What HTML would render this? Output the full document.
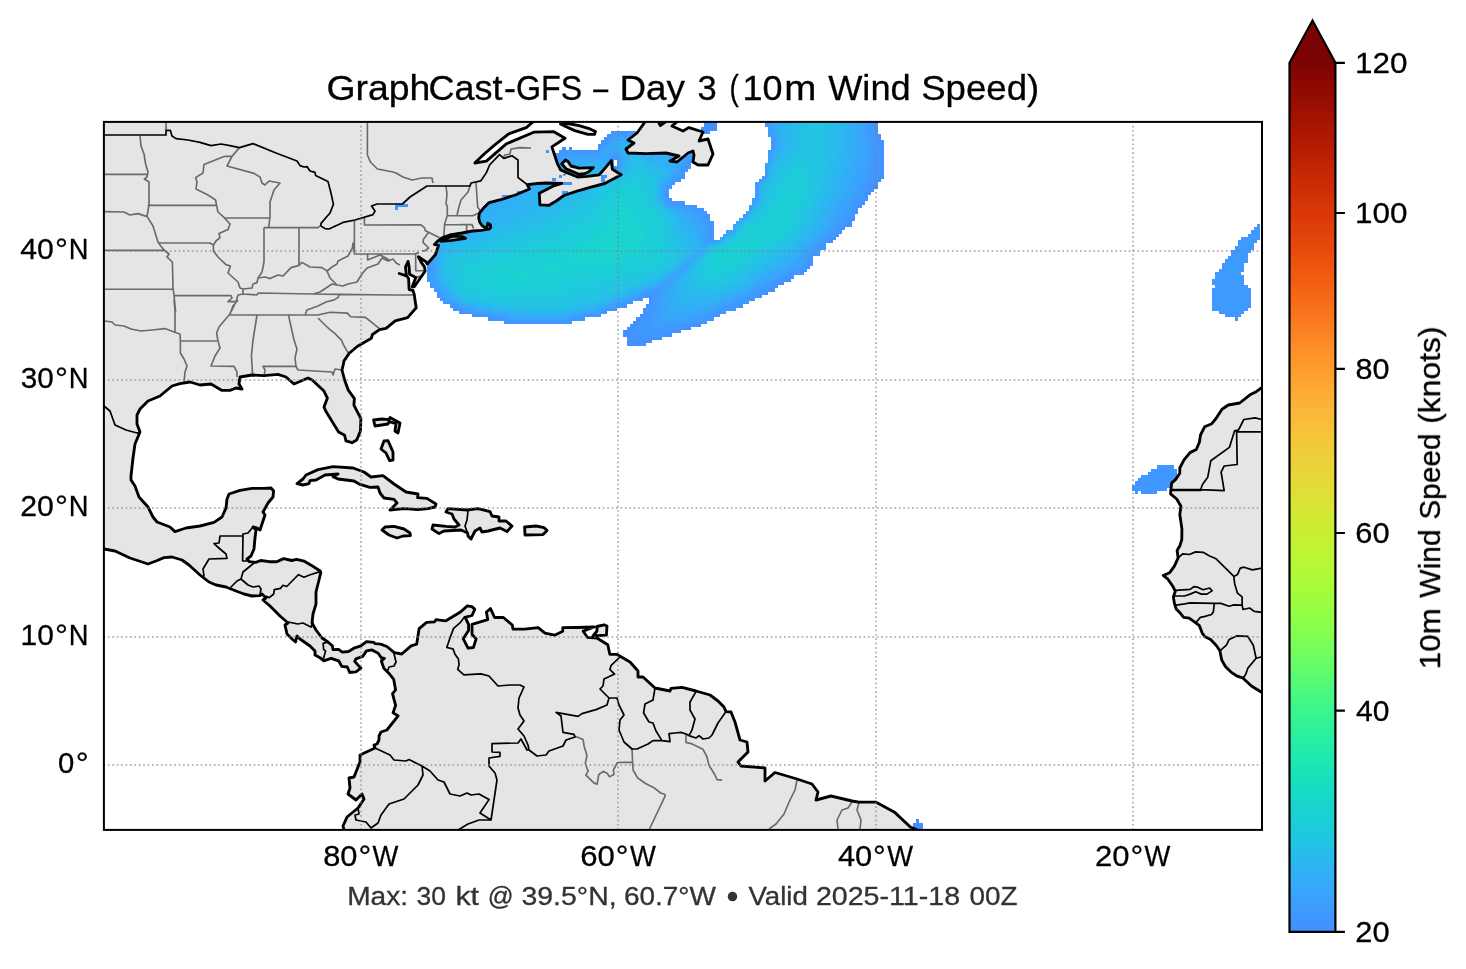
<!DOCTYPE html><html><head><meta charset="utf-8"><title>GraphCast-GFS Day 3</title>
<style>html,body{margin:0;padding:0;background:#fff}svg{display:block}text{font-family:"Liberation Sans",sans-serif}</style></head><body>
<svg width="1466" height="969" viewBox="0 0 1466 969">
<defs>
<clipPath id="ax"><rect x="103.9" y="121.9" width="1158.1" height="708"/></clipPath>
<linearGradient id="cb" x1="0" y1="1" x2="0" y2="0"><stop offset="0%" stop-color="#448ffe"/><stop offset="2.5%" stop-color="#3e9bfe"/><stop offset="5%" stop-color="#37a8fa"/><stop offset="7.5%" stop-color="#2eb4f2"/><stop offset="10%" stop-color="#23c3e4"/><stop offset="12.5%" stop-color="#1ccdd8"/><stop offset="15%" stop-color="#18d7ca"/><stop offset="17.5%" stop-color="#18e0bd"/><stop offset="20%" stop-color="#1fe9af"/><stop offset="22.5%" stop-color="#2aefa1"/><stop offset="25%" stop-color="#38f491"/><stop offset="27.5%" stop-color="#4af880"/><stop offset="30%" stop-color="#61fc6c"/><stop offset="32.5%" stop-color="#75fe5c"/><stop offset="35%" stop-color="#88ff4e"/><stop offset="37.5%" stop-color="#99fe42"/><stop offset="40%" stop-color="#a9fb39"/><stop offset="42.5%" stop-color="#b7f735"/><stop offset="45%" stop-color="#c3f134"/><stop offset="47.5%" stop-color="#d0ea34"/><stop offset="50%" stop-color="#dde037"/><stop offset="52.5%" stop-color="#e7d739"/><stop offset="55%" stop-color="#efcd3a"/><stop offset="57.5%" stop-color="#f6c33a"/><stop offset="60%" stop-color="#fbb637"/><stop offset="62.5%" stop-color="#fea933"/><stop offset="65%" stop-color="#fe9b2d"/><stop offset="67.5%" stop-color="#fd8d27"/><stop offset="70%" stop-color="#fa7b1f"/><stop offset="72.5%" stop-color="#f66c19"/><stop offset="75%" stop-color="#f15d13"/><stop offset="77.5%" stop-color="#eb500e"/><stop offset="80%" stop-color="#e2430a"/><stop offset="82.5%" stop-color="#da3907"/><stop offset="85%" stop-color="#d02f05"/><stop offset="87.5%" stop-color="#c52603"/><stop offset="90%" stop-color="#b71d02"/><stop offset="92.5%" stop-color="#a91601"/><stop offset="95%" stop-color="#9b0f01"/><stop offset="97.5%" stop-color="#8b0902"/><stop offset="100%" stop-color="#7a0403"/></linearGradient>
</defs>
<rect width="1466" height="969" fill="#fff"/>
<g clip-path="url(#ax)">
<g shape-rendering="crispEdges">
<path d="M703.9,120.9H716.7V124.2H703.9ZM765,120.9H877.6V124.2H765ZM703.9,124.2H716.7V127.4H703.9ZM765,124.2H877.6V127.4H765ZM700.6,127.4H716.7V130.6H700.6ZM768.2,127.4H877.6V130.6H768.2ZM610.6,130.6H636.3V133.8H610.6ZM700.6,130.6H710.3V133.8H700.6ZM768.2,130.6H877.6V133.8H768.2ZM607.4,133.8H646V137H607.4ZM768.2,133.8H880.8V137H768.2ZM604.1,137H655.6V140.2H604.1ZM771.4,137H880.8V140.2H771.4ZM600.9,140.2H668.5V143.5H600.9ZM771.4,140.2H884V143.5H771.4ZM597.7,143.5H681.3V146.7H597.7ZM771.4,143.5H884V146.7H771.4ZM562.3,146.7H565.5V149.9H562.3ZM568.7,146.7H572V149.9H568.7ZM597.7,146.7H694.2V149.9H597.7ZM771.4,146.7H884V149.9H771.4ZM559.1,149.9H700.6V153.1H559.1ZM768.2,149.9H884V153.1H768.2ZM552.7,153.1H697.4V156.3H552.7ZM768.2,153.1H884V156.3H768.2ZM549.4,156.3H694.2V159.6H549.4ZM768.2,156.3H884V159.6H768.2ZM543,159.6H613.8V162.8H543ZM617,159.6H694.2V162.8H617ZM768.2,159.6H884V162.8H768.2ZM539.8,162.8H613.8V166H539.8ZM617,162.8H691V166H617ZM765,162.8H884V166H765ZM536.6,166H691V169.2H536.6ZM765,166H884V169.2H765ZM530.1,169.2H687.8V172.4H530.1ZM765,169.2H884V172.4H765ZM526.9,172.4H684.6V175.6H526.9ZM765,172.4H884V175.6H765ZM523.7,175.6H684.6V178.9H523.7ZM761.8,175.6H884V178.9H761.8ZM520.5,178.9H681.3V182.1H520.5ZM758.5,178.9H880.8V182.1H758.5ZM514.1,182.1H674.9V185.3H514.1ZM755.3,182.1H877.6V185.3H755.3ZM510.8,185.3H671.7V188.5H510.8ZM755.3,185.3H877.6V188.5H755.3ZM507.6,188.5H668.5V191.7H507.6ZM755.3,188.5H874.4V191.7H755.3ZM501.2,191.7H668.5V195H501.2ZM755.3,191.7H871.1V195H755.3ZM498,195H668.5V198.2H498ZM755.3,195H867.9V198.2H755.3ZM491.5,198.2H671.7V201.4H491.5ZM752.1,198.2H867.9V201.4H752.1ZM485.1,201.4H684.6V204.6H485.1ZM752.1,201.4H864.7V204.6H752.1ZM478.7,204.6H697.4V207.8H478.7ZM748.9,204.6H861.5V207.8H748.9ZM478.7,207.8H703.9V211H478.7ZM748.9,207.8H858.3V211H748.9ZM475.5,211H707.1V214.3H475.5ZM745.7,211H858.3V214.3H745.7ZM475.5,214.3H710.3V217.5H475.5ZM742.5,214.3H855.1V217.5H742.5ZM472.2,217.5H710.3V220.7H472.2ZM739.2,217.5H855.1V220.7H739.2ZM472.2,220.7H713.5V223.9H472.2ZM736,220.7H851.8V223.9H736ZM469,223.9H713.5V227.1H469ZM732.8,223.9H851.8V227.1H732.8ZM1257.2,223.9H1260.4V227.1H1257.2ZM459.4,227.1H713.5V230.4H459.4ZM732.8,227.1H845.4V230.4H732.8ZM1254,227.1H1260.4V230.4H1254ZM449.7,230.4H713.5V233.6H449.7ZM726.4,230.4H842.2V233.6H726.4ZM1250.7,230.4H1260.4V233.6H1250.7ZM443.3,233.6H713.5V236.8H443.3ZM723.2,233.6H839V236.8H723.2ZM1247.5,233.6H1260.4V236.8H1247.5ZM440.1,236.8H713.5V240H440.1ZM719.9,236.8H835.8V240H719.9ZM1241.1,236.8H1260.4V240H1241.1ZM436.9,240H832.5V243.2H436.9ZM1237.9,240H1257.2V243.2H1237.9ZM436.9,243.2H826.1V246.4H436.9ZM1237.9,243.2H1254V246.4H1237.9ZM433.6,246.4H826.1V249.7H433.6ZM1234.7,246.4H1254V249.7H1234.7ZM433.6,249.7H819.7V252.9H433.6ZM1231.4,249.7H1250.7V252.9H1231.4ZM430.4,252.9H819.7V256.1H430.4ZM1231.4,252.9H1247.5V256.1H1231.4ZM430.4,256.1H813.2V259.3H430.4ZM1228.2,256.1H1247.5V259.3H1228.2ZM430.4,259.3H813.2V262.5H430.4ZM1225,259.3H1247.5V262.5H1225ZM427.2,262.5H813.2V265.8H427.2ZM1221.8,262.5H1244.3V265.8H1221.8ZM427.2,265.8H810V269H427.2ZM1221.8,265.8H1244.3V269H1221.8ZM427.2,269H806.8V272.2H427.2ZM1218.6,269H1244.3V272.2H1218.6ZM427.2,272.2H803.6V275.4H427.2ZM1215.4,272.2H1241.1V275.4H1215.4ZM427.2,275.4H793.9V278.6H427.2ZM1215.4,275.4H1244.3V278.6H1215.4ZM427.2,278.6H790.7V281.8H427.2ZM1212.1,278.6H1244.3V281.8H1212.1ZM430.4,281.8H784.3V285.1H430.4ZM1212.1,281.8H1244.3V285.1H1212.1ZM430.4,285.1H777.8V288.3H430.4ZM1215.4,285.1H1247.5V288.3H1215.4ZM433.6,288.3H774.6V291.5H433.6ZM1212.1,288.3H1250.7V291.5H1212.1ZM436.9,291.5H768.2V294.7H436.9ZM1212.1,291.5H1250.7V294.7H1212.1ZM436.9,294.7H761.8V297.9H436.9ZM1212.1,294.7H1250.7V297.9H1212.1ZM440.1,297.9H642.7V301.2H440.1ZM649.2,297.9H755.3V301.2H649.2ZM1212.1,297.9H1250.7V301.2H1212.1ZM443.3,301.2H633.1V304.4H443.3ZM649.2,301.2H748.9V304.4H649.2ZM1212.1,301.2H1250.7V304.4H1212.1ZM449.7,304.4H626.7V307.6H449.7ZM646,304.4H742.5V307.6H646ZM1212.1,304.4H1250.7V307.6H1212.1ZM452.9,307.6H617V310.8H452.9ZM642.7,307.6H736V310.8H642.7ZM1212.1,307.6H1247.5V310.8H1212.1ZM459.4,310.8H607.4V314H459.4ZM642.7,310.8H726.4V314H642.7ZM1218.6,310.8H1244.3V314H1218.6ZM472.2,314H600.9V317.2H472.2ZM639.5,314H719.9V317.2H639.5ZM1225,314H1241.1V317.2H1225ZM488.3,317.2H584.8V320.5H488.3ZM636.3,317.2H713.5V320.5H636.3ZM1234.7,317.2H1237.9V320.5H1234.7ZM504.4,320.5H572V323.7H504.4ZM633.1,320.5H707.1V323.7H633.1ZM629.9,323.7H700.6V326.9H629.9ZM626.7,326.9H691V330.1H626.7ZM623.4,330.1H681.3V333.3H623.4ZM623.4,333.3H671.7V336.6H623.4ZM626.7,336.6H662V339.8H626.7ZM626.7,339.8H652.4V343H626.7ZM626.7,343H646V346.2H626.7ZM1157.4,465.3H1173.5V468.5H1157.4ZM1151,468.5H1176.8V471.7H1151ZM1147.8,471.7H1176.8V474.9H1147.8ZM1141.4,474.9H1176.8V478.2H1141.4ZM1138.1,478.2H1176.8V481.4H1138.1ZM1134.9,481.4H1173.5V484.6H1134.9ZM1131.7,484.6H1170.3V487.8H1131.7ZM1131.7,487.8H1167.1V491H1131.7ZM1134.9,491H1138.1V494.2H1134.9ZM1141.4,491H1157.4V494.2H1141.4ZM916.2,819.3H919.4V822.5H916.2ZM913,822.5H922.6V825.7H913ZM913,825.7H922.6V828.9H913Z" fill="#4391fe"/>
<path d="M765,120.9H874.4V124.2H765ZM765,124.2H874.4V127.4H765ZM768.2,127.4H874.4V130.6H768.2ZM610.6,130.6H636.3V133.8H610.6ZM768.2,130.6H874.4V133.8H768.2ZM607.4,133.8H646V137H607.4ZM768.2,133.8H877.6V137H768.2ZM604.1,137H655.6V140.2H604.1ZM771.4,137H877.6V140.2H771.4ZM600.9,140.2H668.5V143.5H600.9ZM771.4,140.2H880.8V143.5H771.4ZM597.7,143.5H681.3V146.7H597.7ZM771.4,143.5H880.8V146.7H771.4ZM597.7,146.7H694.2V149.9H597.7ZM771.4,146.7H880.8V149.9H771.4ZM559.1,149.9H700.6V153.1H559.1ZM768.2,149.9H880.8V153.1H768.2ZM552.7,153.1H697.4V156.3H552.7ZM768.2,153.1H880.8V156.3H768.2ZM549.4,156.3H694.2V159.6H549.4ZM768.2,156.3H880.8V159.6H768.2ZM543,159.6H613.8V162.8H543ZM617,159.6H694.2V162.8H617ZM768.2,159.6H880.8V162.8H768.2ZM539.8,162.8H613.8V166H539.8ZM617,162.8H691V166H617ZM765,162.8H880.8V166H765ZM536.6,166H691V169.2H536.6ZM765,166H880.8V169.2H765ZM530.1,169.2H687.8V172.4H530.1ZM765,169.2H880.8V172.4H765ZM526.9,172.4H684.6V175.6H526.9ZM765,172.4H880.8V175.6H765ZM523.7,175.6H684.6V178.9H523.7ZM761.8,175.6H877.6V178.9H761.8ZM520.5,178.9H681.3V182.1H520.5ZM758.5,178.9H874.4V182.1H758.5ZM514.1,182.1H674.9V185.3H514.1ZM755.3,182.1H874.4V185.3H755.3ZM510.8,185.3H671.7V188.5H510.8ZM755.3,185.3H871.1V188.5H755.3ZM507.6,188.5H668.5V191.7H507.6ZM755.3,188.5H867.9V191.7H755.3ZM501.2,191.7H668.5V195H501.2ZM755.3,191.7H864.7V195H755.3ZM498,195H668.5V198.2H498ZM755.3,195H864.7V198.2H755.3ZM491.5,198.2H671.7V201.4H491.5ZM752.1,198.2H864.7V201.4H752.1ZM485.1,201.4H684.6V204.6H485.1ZM752.1,201.4H861.5V204.6H752.1ZM478.7,204.6H697.4V207.8H478.7ZM748.9,204.6H858.3V207.8H748.9ZM478.7,207.8H703.9V211H478.7ZM748.9,207.8H855.1V211H748.9ZM475.5,211H707.1V214.3H475.5ZM745.7,211H855.1V214.3H745.7ZM475.5,214.3H710.3V217.5H475.5ZM742.5,214.3H851.8V217.5H742.5ZM472.2,217.5H710.3V220.7H472.2ZM739.2,217.5H848.6V220.7H739.2ZM472.2,220.7H713.5V223.9H472.2ZM736,220.7H848.6V223.9H736ZM469,223.9H713.5V227.1H469ZM732.8,223.9H845.4V227.1H732.8ZM1257.2,223.9H1260.4V227.1H1257.2ZM459.4,227.1H713.5V230.4H459.4ZM732.8,227.1H842.2V230.4H732.8ZM1254,227.1H1260.4V230.4H1254ZM449.7,230.4H713.5V233.6H449.7ZM726.4,230.4H839V233.6H726.4ZM1250.7,230.4H1260.4V233.6H1250.7ZM443.3,233.6H713.5V236.8H443.3ZM723.2,233.6H835.8V236.8H723.2ZM1247.5,233.6H1260.4V236.8H1247.5ZM440.1,236.8H713.5V240H440.1ZM719.9,236.8H832.5V240H719.9ZM1241.1,236.8H1260.4V240H1241.1ZM436.9,240H832.5V243.2H436.9ZM1237.9,240H1257.2V243.2H1237.9ZM436.9,243.2H826.1V246.4H436.9ZM1237.9,243.2H1254V246.4H1237.9ZM433.6,246.4H826.1V249.7H433.6ZM1234.7,246.4H1254V249.7H1234.7ZM433.6,249.7H819.7V252.9H433.6ZM1231.4,249.7H1250.7V252.9H1231.4ZM430.4,252.9H819.7V256.1H430.4ZM1231.4,252.9H1247.5V256.1H1231.4ZM430.4,256.1H813.2V259.3H430.4ZM1228.2,256.1H1247.5V259.3H1228.2ZM430.4,259.3H813.2V262.5H430.4ZM1225,259.3H1247.5V262.5H1225ZM427.2,262.5H813.2V265.8H427.2ZM1221.8,262.5H1244.3V265.8H1221.8ZM427.2,265.8H806.8V269H427.2ZM1221.8,265.8H1244.3V269H1221.8ZM427.2,269H803.6V272.2H427.2ZM1218.6,269H1244.3V272.2H1218.6ZM427.2,272.2H800.4V275.4H427.2ZM1215.4,272.2H1241.1V275.4H1215.4ZM427.2,275.4H793.9V278.6H427.2ZM1215.4,275.4H1244.3V278.6H1215.4ZM427.2,278.6H784.3V281.8H427.2ZM1212.1,278.6H1244.3V281.8H1212.1ZM430.4,281.8H777.8V285.1H430.4ZM1212.1,281.8H1244.3V285.1H1212.1ZM430.4,285.1H774.6V288.3H430.4ZM1215.4,285.1H1247.5V288.3H1215.4ZM433.6,288.3H768.2V291.5H433.6ZM1212.1,288.3H1250.7V291.5H1212.1ZM436.9,291.5H765V294.7H436.9ZM1212.1,291.5H1250.7V294.7H1212.1ZM436.9,294.7H646V297.9H436.9ZM652.4,294.7H761.8V297.9H652.4ZM1212.1,294.7H1250.7V297.9H1212.1ZM440.1,297.9H642.7V301.2H440.1ZM652.4,297.9H755.3V301.2H652.4ZM1212.1,297.9H1250.7V301.2H1212.1ZM443.3,301.2H633.1V304.4H443.3ZM652.4,301.2H748.9V304.4H652.4ZM1212.1,301.2H1250.7V304.4H1212.1ZM449.7,304.4H626.7V307.6H449.7ZM649.2,304.4H742.5V307.6H649.2ZM1212.1,304.4H1250.7V307.6H1212.1ZM452.9,307.6H617V310.8H452.9ZM646,307.6H736V310.8H646ZM1212.1,307.6H1247.5V310.8H1212.1ZM459.4,310.8H607.4V314H459.4ZM646,310.8H726.4V314H646ZM1218.6,310.8H1244.3V314H1218.6ZM472.2,314H600.9V317.2H472.2ZM642.7,314H719.9V317.2H642.7ZM1225,314H1241.1V317.2H1225ZM488.3,317.2H584.8V320.5H488.3ZM639.5,317.2H713.5V320.5H639.5ZM1234.7,317.2H1237.9V320.5H1234.7ZM504.4,320.5H572V323.7H504.4ZM639.5,320.5H707.1V323.7H639.5ZM636.3,323.7H691V326.9H636.3ZM633.1,326.9H681.3V330.1H633.1ZM629.9,330.1H671.7V333.3H629.9ZM629.9,333.3H662V336.6H629.9ZM633.1,336.6H649.2V339.8H633.1ZM1157.4,465.3H1173.5V468.5H1157.4ZM1151,468.5H1176.8V471.7H1151ZM1147.8,471.7H1176.8V474.9H1147.8ZM1141.4,474.9H1176.8V478.2H1141.4ZM1138.1,478.2H1176.8V481.4H1138.1ZM1134.9,481.4H1173.5V484.6H1134.9ZM1131.7,484.6H1170.3V487.8H1131.7ZM1131.7,487.8H1167.1V491H1131.7ZM1134.9,491H1138.1V494.2H1134.9ZM1141.4,491H1157.4V494.2H1141.4Z" fill="#4196ff"/>
<path d="M765,120.9H871.1V124.2H765ZM765,124.2H871.1V127.4H765ZM768.2,127.4H871.1V130.6H768.2ZM768.2,130.6H871.1V133.8H768.2ZM613.8,133.8H646V137H613.8ZM768.2,133.8H871.1V137H768.2ZM610.6,137H655.6V140.2H610.6ZM771.4,137H874.4V140.2H771.4ZM607.4,140.2H668.5V143.5H607.4ZM771.4,140.2H874.4V143.5H771.4ZM604.1,143.5H681.3V146.7H604.1ZM771.4,143.5H874.4V146.7H771.4ZM600.9,146.7H694.2V149.9H600.9ZM771.4,146.7H877.6V149.9H771.4ZM600.9,149.9H700.6V153.1H600.9ZM768.2,149.9H877.6V153.1H768.2ZM562.3,153.1H697.4V156.3H562.3ZM768.2,153.1H874.4V156.3H768.2ZM549.4,156.3H613.8V159.6H549.4ZM617,156.3H694.2V159.6H617ZM768.2,156.3H874.4V159.6H768.2ZM543,159.6H610.6V162.8H543ZM620.2,159.6H687.8V162.8H620.2ZM768.2,159.6H874.4V162.8H768.2ZM539.8,162.8H610.6V166H539.8ZM620.2,162.8H687.8V166H620.2ZM765,162.8H874.4V166H765ZM536.6,166H613.8V169.2H536.6ZM617,166H684.6V169.2H617ZM765,166H874.4V169.2H765ZM530.1,169.2H681.3V172.4H530.1ZM765,169.2H874.4V172.4H765ZM526.9,172.4H681.3V175.6H526.9ZM765,172.4H871.1V175.6H765ZM523.7,175.6H678.1V178.9H523.7ZM761.8,175.6H871.1V178.9H761.8ZM520.5,178.9H674.9V182.1H520.5ZM758.5,178.9H867.9V182.1H758.5ZM514.1,182.1H671.7V185.3H514.1ZM755.3,182.1H867.9V185.3H755.3ZM510.8,185.3H668.5V188.5H510.8ZM755.3,185.3H864.7V188.5H755.3ZM507.6,188.5H665.3V191.7H507.6ZM755.3,188.5H864.7V191.7H755.3ZM501.2,191.7H665.3V195H501.2ZM755.3,191.7H861.5V195H755.3ZM498,195H665.3V198.2H498ZM755.3,195H861.5V198.2H755.3ZM491.5,198.2H668.5V201.4H491.5ZM752.1,198.2H858.3V201.4H752.1ZM485.1,201.4H671.7V204.6H485.1ZM752.1,201.4H855.1V204.6H752.1ZM478.7,204.6H684.6V207.8H478.7ZM748.9,204.6H851.8V207.8H748.9ZM478.7,207.8H694.2V211H478.7ZM748.9,207.8H851.8V211H748.9ZM475.5,211H700.6V214.3H475.5ZM745.7,211H848.6V214.3H745.7ZM475.5,214.3H703.9V217.5H475.5ZM742.5,214.3H848.6V217.5H742.5ZM472.2,217.5H707.1V220.7H472.2ZM739.2,217.5H845.4V220.7H739.2ZM472.2,220.7H707.1V223.9H472.2ZM736,220.7H842.2V223.9H736ZM469,223.9H710.3V227.1H469ZM732.8,223.9H839V227.1H732.8ZM459.4,227.1H710.3V230.4H459.4ZM732.8,227.1H839V230.4H732.8ZM449.7,230.4H710.3V233.6H449.7ZM726.4,230.4H835.8V233.6H726.4ZM1254,230.4H1257.2V233.6H1254ZM443.3,233.6H710.3V236.8H443.3ZM723.2,233.6H832.5V236.8H723.2ZM1250.7,233.6H1257.2V236.8H1250.7ZM440.1,236.8H710.3V240H440.1ZM719.9,236.8H829.3V240H719.9ZM1247.5,236.8H1257.2V240H1247.5ZM436.9,240H822.9V243.2H436.9ZM1241.1,240H1254V243.2H1241.1ZM436.9,243.2H822.9V246.4H436.9ZM1241.1,243.2H1250.7V246.4H1241.1ZM433.6,246.4H816.5V249.7H433.6ZM1237.9,246.4H1250.7V249.7H1237.9ZM433.6,249.7H816.5V252.9H433.6ZM1234.7,249.7H1247.5V252.9H1234.7ZM430.4,252.9H810V256.1H430.4ZM1234.7,252.9H1244.3V256.1H1234.7ZM430.4,256.1H810V259.3H430.4ZM1231.4,256.1H1244.3V259.3H1231.4ZM430.4,259.3H810V262.5H430.4ZM1228.2,259.3H1244.3V262.5H1228.2ZM430.4,262.5H806.8V265.8H430.4ZM1225,262.5H1241.1V265.8H1225ZM430.4,265.8H803.6V269H430.4ZM1225,265.8H1241.1V269H1225ZM430.4,269H800.4V272.2H430.4ZM1221.8,269H1241.1V272.2H1221.8ZM430.4,272.2H790.7V275.4H430.4ZM1218.6,272.2H1237.9V275.4H1218.6ZM430.4,275.4H787.5V278.6H430.4ZM1218.6,275.4H1241.1V278.6H1218.6ZM430.4,278.6H781.1V281.8H430.4ZM1215.4,278.6H1241.1V281.8H1215.4ZM433.6,281.8H774.6V285.1H433.6ZM1215.4,281.8H1241.1V285.1H1215.4ZM433.6,285.1H768.2V288.3H433.6ZM1218.6,285.1H1244.3V288.3H1218.6ZM436.9,288.3H765V291.5H436.9ZM1215.4,288.3H1247.5V291.5H1215.4ZM440.1,291.5H649.2V294.7H440.1ZM658.8,291.5H758.5V294.7H658.8ZM1215.4,291.5H1247.5V294.7H1215.4ZM440.1,294.7H642.7V297.9H440.1ZM655.6,294.7H752.1V297.9H655.6ZM1215.4,294.7H1247.5V297.9H1215.4ZM443.3,297.9H633.1V301.2H443.3ZM655.6,297.9H745.7V301.2H655.6ZM1215.4,297.9H1247.5V301.2H1215.4ZM449.7,301.2H626.7V304.4H449.7ZM655.6,301.2H739.2V304.4H655.6ZM1215.4,301.2H1247.5V304.4H1215.4ZM452.9,304.4H617V307.6H452.9ZM655.6,304.4H732.8V307.6H655.6ZM1215.4,304.4H1247.5V307.6H1215.4ZM459.4,307.6H607.4V310.8H459.4ZM652.4,307.6H723.2V310.8H652.4ZM1218.6,307.6H1244.3V310.8H1218.6ZM472.2,310.8H600.9V314H472.2ZM649.2,310.8H716.7V314H649.2ZM1225,310.8H1241.1V314H1225ZM488.3,314H584.8V317.2H488.3ZM649.2,314H710.3V317.2H649.2ZM1234.7,314H1237.9V317.2H1234.7ZM504.4,317.2H572V320.5H504.4ZM646,317.2H703.9V320.5H646ZM646,320.5H697.4V323.7H646ZM642.7,323.7H681.3V326.9H642.7ZM642.7,326.9H668.5V330.1H642.7ZM639.5,330.1H646V333.3H639.5Z" fill="#3e9bfe"/>
<path d="M768.2,120.9H871.1V124.2H768.2ZM768.2,124.2H867.9V127.4H768.2ZM771.4,127.4H867.9V130.6H771.4ZM771.4,130.6H867.9V133.8H771.4ZM639.5,133.8H646V137H639.5ZM771.4,133.8H867.9V137H771.4ZM610.6,137H655.6V140.2H610.6ZM774.6,137H871.1V140.2H774.6ZM607.4,140.2H668.5V143.5H607.4ZM774.6,140.2H871.1V143.5H774.6ZM604.1,143.5H681.3V146.7H604.1ZM774.6,143.5H871.1V146.7H774.6ZM604.1,146.7H694.2V149.9H604.1ZM774.6,146.7H871.1V149.9H774.6ZM600.9,149.9H700.6V153.1H600.9ZM771.4,149.9H871.1V153.1H771.4ZM597.7,153.1H697.4V156.3H597.7ZM771.4,153.1H871.1V156.3H771.4ZM562.3,156.3H610.6V159.6H562.3ZM620.2,156.3H687.8V159.6H620.2ZM771.4,156.3H871.1V159.6H771.4ZM543,159.6H610.6V162.8H543ZM620.2,159.6H684.6V162.8H620.2ZM768.2,159.6H871.1V162.8H768.2ZM539.8,162.8H610.6V166H539.8ZM620.2,162.8H684.6V166H620.2ZM765,162.8H871.1V166H765ZM536.6,166H610.6V169.2H536.6ZM620.2,166H681.3V169.2H620.2ZM765,166H871.1V169.2H765ZM530.1,169.2H681.3V172.4H530.1ZM765,169.2H867.9V172.4H765ZM526.9,172.4H678.1V175.6H526.9ZM765,172.4H867.9V175.6H765ZM523.7,175.6H678.1V178.9H523.7ZM761.8,175.6H864.7V178.9H761.8ZM520.5,178.9H671.7V182.1H520.5ZM758.5,178.9H864.7V182.1H758.5ZM514.1,182.1H668.5V185.3H514.1ZM755.3,182.1H864.7V185.3H755.3ZM510.8,185.3H665.3V188.5H510.8ZM755.3,185.3H861.5V188.5H755.3ZM507.6,188.5H665.3V191.7H507.6ZM755.3,188.5H858.3V191.7H755.3ZM501.2,191.7H665.3V195H501.2ZM755.3,191.7H858.3V195H755.3ZM498,195H665.3V198.2H498ZM755.3,195H855.1V198.2H755.3ZM491.5,198.2H665.3V201.4H491.5ZM752.1,198.2H855.1V201.4H752.1ZM485.1,201.4H668.5V204.6H485.1ZM752.1,201.4H851.8V204.6H752.1ZM478.7,204.6H681.3V207.8H478.7ZM748.9,204.6H848.6V207.8H748.9ZM478.7,207.8H684.6V211H478.7ZM748.9,207.8H848.6V211H748.9ZM475.5,211H694.2V214.3H475.5ZM745.7,211H845.4V214.3H745.7ZM475.5,214.3H700.6V217.5H475.5ZM742.5,214.3H842.2V217.5H742.5ZM472.2,217.5H703.9V220.7H472.2ZM739.2,217.5H842.2V220.7H739.2ZM472.2,220.7H703.9V223.9H472.2ZM736,220.7H839V223.9H736ZM469,223.9H707.1V227.1H469ZM732.8,223.9H835.8V227.1H732.8ZM459.4,227.1H707.1V230.4H459.4ZM732.8,227.1H832.5V230.4H732.8ZM449.7,230.4H707.1V233.6H449.7ZM726.4,230.4H832.5V233.6H726.4ZM443.3,233.6H707.1V236.8H443.3ZM723.2,233.6H829.3V236.8H723.2ZM440.1,236.8H707.1V240H440.1ZM719.9,236.8H822.9V240H719.9ZM436.9,240H819.7V243.2H436.9ZM436.9,243.2H816.5V246.4H436.9ZM433.6,246.4H813.2V249.7H433.6ZM433.6,249.7H810V252.9H433.6ZM430.4,252.9H806.8V256.1H430.4ZM430.4,256.1H806.8V259.3H430.4ZM430.4,259.3H806.8V262.5H430.4ZM433.6,262.5H803.6V265.8H433.6ZM430.4,265.8H800.4V269H430.4ZM430.4,269H790.7V272.2H430.4ZM430.4,272.2H787.5V275.4H430.4ZM430.4,275.4H781.1V278.6H430.4ZM433.6,278.6H774.6V281.8H433.6ZM433.6,281.8H771.4V285.1H433.6ZM436.9,285.1H765V288.3H436.9ZM440.1,288.3H655.6V291.5H440.1ZM662,288.3H758.5V291.5H662ZM440.1,291.5H646V294.7H440.1ZM662,291.5H752.1V294.7H662ZM443.3,294.7H639.5V297.9H443.3ZM658.8,294.7H745.7V297.9H658.8ZM446.5,297.9H629.9V301.2H446.5ZM658.8,297.9H739.2V301.2H658.8ZM452.9,301.2H623.4V304.4H452.9ZM658.8,301.2H732.8V304.4H658.8ZM456.2,304.4H613.8V307.6H456.2ZM655.6,304.4H723.2V307.6H655.6ZM462.6,307.6H604.1V310.8H462.6ZM655.6,307.6H716.7V310.8H655.6ZM475.5,310.8H597.7V314H475.5ZM652.4,310.8H710.3V314H652.4ZM491.5,314H581.6V317.2H491.5ZM652.4,314H703.9V317.2H652.4ZM507.6,317.2H568.7V320.5H507.6ZM652.4,317.2H697.4V320.5H652.4ZM652.4,320.5H687.8V323.7H652.4ZM652.4,323.7H668.5V326.9H652.4Z" fill="#3d9efe"/>
<path d="M768.2,120.9H867.9V124.2H768.2ZM771.4,124.2H867.9V127.4H771.4ZM771.4,127.4H864.7V130.6H771.4ZM771.4,130.6H864.7V133.8H771.4ZM642.7,133.8H646V137H642.7ZM774.6,133.8H864.7V137H774.6ZM613.8,137H655.6V140.2H613.8ZM774.6,137H864.7V140.2H774.6ZM610.6,140.2H668.5V143.5H610.6ZM774.6,140.2H867.9V143.5H774.6ZM607.4,143.5H681.3V146.7H607.4ZM774.6,143.5H867.9V146.7H774.6ZM604.1,146.7H694.2V149.9H604.1ZM774.6,146.7H867.9V149.9H774.6ZM604.1,149.9H700.6V153.1H604.1ZM771.4,149.9H867.9V153.1H771.4ZM600.9,153.1H613.8V156.3H600.9ZM617,153.1H687.8V156.3H617ZM771.4,153.1H867.9V156.3H771.4ZM565.5,156.3H610.6V159.6H565.5ZM620.2,156.3H684.6V159.6H620.2ZM771.4,156.3H867.9V159.6H771.4ZM543,159.6H607.4V162.8H543ZM620.2,159.6H684.6V162.8H620.2ZM771.4,159.6H867.9V162.8H771.4ZM539.8,162.8H607.4V166H539.8ZM620.2,162.8H681.3V166H620.2ZM768.2,162.8H864.7V166H768.2ZM536.6,166H610.6V169.2H536.6ZM620.2,166H681.3V169.2H620.2ZM768.2,166H864.7V169.2H768.2ZM530.1,169.2H678.1V172.4H530.1ZM768.2,169.2H864.7V172.4H768.2ZM526.9,172.4H678.1V175.6H526.9ZM768.2,172.4H861.5V175.6H768.2ZM523.7,175.6H671.7V178.9H523.7ZM765,175.6H861.5V178.9H765ZM520.5,178.9H671.7V182.1H520.5ZM761.8,178.9H861.5V182.1H761.8ZM514.1,182.1H668.5V185.3H514.1ZM758.5,182.1H858.3V185.3H758.5ZM510.8,185.3H665.3V188.5H510.8ZM758.5,185.3H858.3V188.5H758.5ZM507.6,188.5H665.3V191.7H507.6ZM758.5,188.5H855.1V191.7H758.5ZM501.2,191.7H665.3V195H501.2ZM758.5,191.7H855.1V195H758.5ZM498,195H665.3V198.2H498ZM758.5,195H851.8V198.2H758.5ZM491.5,198.2H665.3V201.4H491.5ZM755.3,198.2H848.6V201.4H755.3ZM485.1,201.4H668.5V204.6H485.1ZM755.3,201.4H848.6V204.6H755.3ZM478.7,204.6H671.7V207.8H478.7ZM752.1,204.6H845.4V207.8H752.1ZM478.7,207.8H681.3V211H478.7ZM752.1,207.8H842.2V211H752.1ZM475.5,211H694.2V214.3H475.5ZM748.9,211H842.2V214.3H748.9ZM475.5,214.3H697.4V217.5H475.5ZM745.7,214.3H839V217.5H745.7ZM472.2,217.5H700.6V220.7H472.2ZM739.2,217.5H839V220.7H739.2ZM472.2,220.7H700.6V223.9H472.2ZM736,220.7H835.8V223.9H736ZM469,223.9H703.9V227.1H469ZM732.8,223.9H832.5V227.1H732.8ZM459.4,227.1H703.9V230.4H459.4ZM732.8,227.1H832.5V230.4H732.8ZM449.7,230.4H703.9V233.6H449.7ZM726.4,230.4H829.3V233.6H726.4ZM443.3,233.6H707.1V236.8H443.3ZM723.2,233.6H826.1V236.8H723.2ZM440.1,236.8H707.1V240H440.1ZM719.9,236.8H819.7V240H719.9ZM436.9,240H707.1V243.2H436.9ZM716.7,240H819.7V243.2H716.7ZM436.9,243.2H813.2V246.4H436.9ZM433.6,246.4H813.2V249.7H433.6ZM433.6,249.7H806.8V252.9H433.6ZM430.4,252.9H806.8V256.1H430.4ZM430.4,256.1H803.6V259.3H430.4ZM433.6,259.3H803.6V262.5H433.6ZM433.6,262.5H800.4V265.8H433.6ZM433.6,265.8H793.9V269H433.6ZM433.6,269H787.5V272.2H433.6ZM433.6,272.2H781.1V275.4H433.6ZM433.6,275.4H774.6V278.6H433.6ZM436.9,278.6H668.5V281.8H436.9ZM671.7,278.6H771.4V281.8H671.7ZM436.9,281.8H662V285.1H436.9ZM668.5,281.8H765V285.1H668.5ZM436.9,285.1H658.8V288.3H436.9ZM665.3,285.1H761.8V288.3H665.3ZM440.1,288.3H652.4V291.5H440.1ZM665.3,288.3H755.3V291.5H665.3ZM443.3,291.5H642.7V294.7H443.3ZM662,291.5H748.9V294.7H662ZM443.3,294.7H636.3V297.9H443.3ZM662,294.7H745.7V297.9H662ZM449.7,297.9H629.9V301.2H449.7ZM662,297.9H736V301.2H662ZM452.9,301.2H623.4V304.4H452.9ZM658.8,301.2H729.6V304.4H658.8ZM456.2,304.4H613.8V307.6H456.2ZM658.8,304.4H723.2V307.6H658.8ZM462.6,307.6H604.1V310.8H462.6ZM658.8,307.6H716.7V310.8H658.8ZM475.5,310.8H597.7V314H475.5ZM658.8,310.8H707.1V314H658.8ZM491.5,314H581.6V317.2H491.5ZM658.8,314H697.4V317.2H658.8ZM507.6,317.2H568.7V320.5H507.6ZM658.8,317.2H687.8V320.5H658.8Z" fill="#3aa3fc"/>
<path d="M771.4,120.9H864.7V124.2H771.4ZM771.4,124.2H864.7V127.4H771.4ZM771.4,127.4H864.7V130.6H771.4ZM771.4,130.6H861.5V133.8H771.4ZM774.6,133.8H861.5V137H774.6ZM617,137H633.1V140.2H617ZM642.7,137H655.6V140.2H642.7ZM774.6,137H861.5V140.2H774.6ZM613.8,140.2H668.5V143.5H613.8ZM774.6,140.2H861.5V143.5H774.6ZM610.6,143.5H681.3V146.7H610.6ZM774.6,143.5H861.5V146.7H774.6ZM607.4,146.7H687.8V149.9H607.4ZM774.6,146.7H864.7V149.9H774.6ZM604.1,149.9H684.6V153.1H604.1ZM774.6,149.9H861.5V153.1H774.6ZM604.1,153.1H610.6V156.3H604.1ZM620.2,153.1H681.3V156.3H620.2ZM771.4,153.1H861.5V156.3H771.4ZM591.3,156.3H607.4V159.6H591.3ZM623.4,156.3H681.3V159.6H623.4ZM771.4,156.3H861.5V159.6H771.4ZM543,159.6H546.2V162.8H543ZM562.3,159.6H607.4V162.8H562.3ZM623.4,159.6H681.3V162.8H623.4ZM771.4,159.6H861.5V162.8H771.4ZM539.8,162.8H607.4V166H539.8ZM623.4,162.8H681.3V166H623.4ZM768.2,162.8H861.5V166H768.2ZM536.6,166H607.4V169.2H536.6ZM620.2,166H678.1V169.2H620.2ZM768.2,166H861.5V169.2H768.2ZM530.1,169.2H613.8V172.4H530.1ZM617,169.2H678.1V172.4H617ZM768.2,169.2H858.3V172.4H768.2ZM526.9,172.4H674.9V175.6H526.9ZM768.2,172.4H858.3V175.6H768.2ZM523.7,175.6H671.7V178.9H523.7ZM765,175.6H858.3V178.9H765ZM520.5,178.9H668.5V182.1H520.5ZM761.8,178.9H855.1V182.1H761.8ZM514.1,182.1H665.3V185.3H514.1ZM758.5,182.1H855.1V185.3H758.5ZM510.8,185.3H665.3V188.5H510.8ZM758.5,185.3H855.1V188.5H758.5ZM507.6,188.5H662V191.7H507.6ZM758.5,188.5H851.8V191.7H758.5ZM501.2,191.7H662V195H501.2ZM758.5,191.7H851.8V195H758.5ZM498,195H662V198.2H498ZM758.5,195H848.6V198.2H758.5ZM491.5,198.2H665.3V201.4H491.5ZM755.3,198.2H845.4V201.4H755.3ZM485.1,201.4H668.5V204.6H485.1ZM755.3,201.4H845.4V204.6H755.3ZM478.7,204.6H671.7V207.8H478.7ZM752.1,204.6H842.2V207.8H752.1ZM478.7,207.8H681.3V211H478.7ZM752.1,207.8H839V211H752.1ZM475.5,211H684.6V214.3H475.5ZM748.9,211H839V214.3H748.9ZM475.5,214.3H694.2V217.5H475.5ZM745.7,214.3H835.8V217.5H745.7ZM472.2,217.5H697.4V220.7H472.2ZM742.5,217.5H835.8V220.7H742.5ZM472.2,220.7H700.6V223.9H472.2ZM739.2,220.7H832.5V223.9H739.2ZM469,223.9H700.6V227.1H469ZM736,223.9H829.3V227.1H736ZM459.4,227.1H700.6V230.4H459.4ZM736,227.1H829.3V230.4H736ZM449.7,230.4H703.9V233.6H449.7ZM732.8,230.4H826.1V233.6H732.8ZM443.3,233.6H703.9V236.8H443.3ZM726.4,233.6H822.9V236.8H726.4ZM440.1,236.8H703.9V240H440.1ZM723.2,236.8H819.7V240H723.2ZM436.9,240H703.9V243.2H436.9ZM719.9,240H816.5V243.2H719.9ZM436.9,243.2H813.2V246.4H436.9ZM433.6,246.4H810V249.7H433.6ZM433.6,249.7H806.8V252.9H433.6ZM430.4,252.9H803.6V256.1H430.4ZM433.6,256.1H803.6V259.3H433.6ZM433.6,259.3H800.4V262.5H433.6ZM433.6,262.5H797.2V265.8H433.6ZM433.6,265.8H790.7V269H433.6ZM433.6,269H784.3V272.2H433.6ZM433.6,272.2H674.9V275.4H433.6ZM678.1,272.2H777.8V275.4H678.1ZM433.6,275.4H671.7V278.6H433.6ZM674.9,275.4H771.4V278.6H674.9ZM436.9,278.6H665.3V281.8H436.9ZM674.9,278.6H768.2V281.8H674.9ZM436.9,281.8H662V285.1H436.9ZM671.7,281.8H761.8V285.1H671.7ZM440.1,285.1H655.6V288.3H440.1ZM668.5,285.1H758.5V288.3H668.5ZM443.3,288.3H649.2V291.5H443.3ZM665.3,288.3H752.1V291.5H665.3ZM443.3,291.5H639.5V294.7H443.3ZM665.3,291.5H745.7V294.7H665.3ZM446.5,294.7H633.1V297.9H446.5ZM665.3,294.7H739.2V297.9H665.3ZM452.9,297.9H626.7V301.2H452.9ZM662,297.9H732.8V301.2H662ZM456.2,301.2H617V304.4H456.2ZM662,301.2H723.2V304.4H662ZM462.6,304.4H607.4V307.6H462.6ZM662,304.4H716.7V307.6H662ZM475.5,307.6H600.9V310.8H475.5ZM662,307.6H710.3V310.8H662ZM488.3,310.8H584.8V314H488.3ZM665.3,310.8H700.6V314H665.3ZM507.6,314H572V317.2H507.6ZM665.3,314H694.2V317.2H665.3Z" fill="#38a5fb"/>
<path d="M771.4,120.9H861.5V124.2H771.4ZM774.6,124.2H861.5V127.4H774.6ZM774.6,127.4H858.3V130.6H774.6ZM774.6,130.6H858.3V133.8H774.6ZM774.6,133.8H858.3V137H774.6ZM649.2,137H655.6V140.2H649.2ZM777.8,137H858.3V140.2H777.8ZM613.8,140.2H662V143.5H613.8ZM777.8,140.2H858.3V143.5H777.8ZM610.6,143.5H665.3V146.7H610.6ZM777.8,143.5H858.3V146.7H777.8ZM607.4,146.7H668.5V149.9H607.4ZM774.6,146.7H858.3V149.9H774.6ZM607.4,149.9H613.8V153.1H607.4ZM617,149.9H674.9V153.1H617ZM774.6,149.9H858.3V153.1H774.6ZM604.1,153.1H607.4V156.3H604.1ZM620.2,153.1H678.1V156.3H620.2ZM771.4,153.1H858.3V156.3H771.4ZM600.9,156.3H607.4V159.6H600.9ZM623.4,156.3H678.1V159.6H623.4ZM771.4,156.3H858.3V159.6H771.4ZM575.2,159.6H607.4V162.8H575.2ZM623.4,159.6H678.1V162.8H623.4ZM771.4,159.6H858.3V162.8H771.4ZM539.8,162.8H546.2V166H539.8ZM562.3,162.8H607.4V166H562.3ZM623.4,162.8H678.1V166H623.4ZM771.4,162.8H855.1V166H771.4ZM536.6,166H607.4V169.2H536.6ZM623.4,166H674.9V169.2H623.4ZM768.2,166H855.1V169.2H768.2ZM530.1,169.2H610.6V172.4H530.1ZM620.2,169.2H674.9V172.4H620.2ZM768.2,169.2H855.1V172.4H768.2ZM526.9,172.4H671.7V175.6H526.9ZM768.2,172.4H855.1V175.6H768.2ZM523.7,175.6H668.5V178.9H523.7ZM768.2,175.6H851.8V178.9H768.2ZM520.5,178.9H668.5V182.1H520.5ZM765,178.9H851.8V182.1H765ZM514.1,182.1H665.3V185.3H514.1ZM761.8,182.1H851.8V185.3H761.8ZM510.8,185.3H662V188.5H510.8ZM758.5,185.3H848.6V188.5H758.5ZM507.6,188.5H662V191.7H507.6ZM758.5,188.5H848.6V191.7H758.5ZM501.2,191.7H662V195H501.2ZM758.5,191.7H845.4V195H758.5ZM498,195H662V198.2H498ZM758.5,195H845.4V198.2H758.5ZM491.5,198.2H662V201.4H491.5ZM758.5,198.2H842.2V201.4H758.5ZM485.1,201.4H665.3V204.6H485.1ZM755.3,201.4H839V204.6H755.3ZM478.7,204.6H668.5V207.8H478.7ZM755.3,204.6H839V207.8H755.3ZM478.7,207.8H678.1V211H478.7ZM752.1,207.8H835.8V211H752.1ZM475.5,211H681.3V214.3H475.5ZM748.9,211H835.8V214.3H748.9ZM475.5,214.3H691V217.5H475.5ZM745.7,214.3H832.5V217.5H745.7ZM472.2,217.5H694.2V220.7H472.2ZM742.5,217.5H832.5V220.7H742.5ZM472.2,220.7H697.4V223.9H472.2ZM739.2,220.7H829.3V223.9H739.2ZM469,223.9H697.4V227.1H469ZM736,223.9H829.3V227.1H736ZM459.4,227.1H697.4V230.4H459.4ZM736,227.1H826.1V230.4H736ZM449.7,230.4H700.6V233.6H449.7ZM732.8,230.4H822.9V233.6H732.8ZM443.3,233.6H700.6V236.8H443.3ZM726.4,233.6H819.7V236.8H726.4ZM440.1,236.8H700.6V240H440.1ZM723.2,236.8H816.5V240H723.2ZM436.9,240H703.9V243.2H436.9ZM719.9,240H813.2V243.2H719.9ZM436.9,243.2H703.9V246.4H436.9ZM707.1,243.2H810V246.4H707.1ZM433.6,246.4H806.8V249.7H433.6ZM433.6,249.7H803.6V252.9H433.6ZM433.6,252.9H800.4V256.1H433.6ZM433.6,256.1H800.4V259.3H433.6ZM436.9,259.3H797.2V262.5H436.9ZM436.9,262.5H790.7V265.8H436.9ZM436.9,265.8H681.3V269H436.9ZM687.8,265.8H787.5V269H687.8ZM436.9,269H678.1V272.2H436.9ZM684.6,269H781.1V272.2H684.6ZM436.9,272.2H671.7V275.4H436.9ZM681.3,272.2H771.4V275.4H681.3ZM436.9,275.4H668.5V278.6H436.9ZM678.1,275.4H768.2V278.6H678.1ZM436.9,278.6H665.3V281.8H436.9ZM674.9,278.6H761.8V281.8H674.9ZM440.1,281.8H658.8V285.1H440.1ZM671.7,281.8H758.5V285.1H671.7ZM443.3,285.1H655.6V288.3H443.3ZM671.7,285.1H755.3V288.3H671.7ZM443.3,288.3H646V291.5H443.3ZM668.5,288.3H748.9V291.5H668.5ZM443.3,291.5H639.5V294.7H443.3ZM668.5,291.5H742.5V294.7H668.5ZM446.5,294.7H629.9V297.9H446.5ZM665.3,294.7H736V297.9H665.3ZM452.9,297.9H623.4V301.2H452.9ZM665.3,297.9H729.6V301.2H665.3ZM456.2,301.2H613.8V304.4H456.2ZM665.3,301.2H719.9V304.4H665.3ZM462.6,304.4H604.1V307.6H462.6ZM668.5,304.4H713.5V307.6H668.5ZM475.5,307.6H597.7V310.8H475.5ZM668.5,307.6H707.1V310.8H668.5ZM491.5,310.8H581.6V314H491.5ZM671.7,310.8H694.2V314H671.7ZM507.6,314H568.7V317.2H507.6Z" fill="#35abf8"/>
<path d="M774.6,120.9H855.1V124.2H774.6ZM774.6,124.2H855.1V127.4H774.6ZM774.6,127.4H855.1V130.6H774.6ZM774.6,130.6H855.1V133.8H774.6ZM777.8,133.8H855.1V137H777.8ZM777.8,137H855.1V140.2H777.8ZM617,140.2H633.1V143.5H617ZM777.8,140.2H855.1V143.5H777.8ZM613.8,143.5H646V146.7H613.8ZM777.8,143.5H855.1V146.7H777.8ZM610.6,146.7H649.2V149.9H610.6ZM777.8,146.7H855.1V149.9H777.8ZM620.2,149.9H652.4V153.1H620.2ZM774.6,149.9H855.1V153.1H774.6ZM623.4,153.1H662V156.3H623.4ZM774.6,153.1H855.1V156.3H774.6ZM623.4,156.3H671.7V159.6H623.4ZM774.6,156.3H851.8V159.6H774.6ZM594.5,159.6H604.1V162.8H594.5ZM623.4,159.6H671.7V162.8H623.4ZM771.4,159.6H851.8V162.8H771.4ZM572,162.8H604.1V166H572ZM623.4,162.8H671.7V166H623.4ZM771.4,162.8H851.8V166H771.4ZM562.3,166H607.4V169.2H562.3ZM623.4,166H671.7V169.2H623.4ZM768.2,166H851.8V169.2H768.2ZM539.8,169.2H607.4V172.4H539.8ZM620.2,169.2H674.9V172.4H620.2ZM768.2,169.2H851.8V172.4H768.2ZM530.1,172.4H671.7V175.6H530.1ZM768.2,172.4H848.6V175.6H768.2ZM523.7,175.6H668.5V178.9H523.7ZM768.2,175.6H848.6V178.9H768.2ZM520.5,178.9H665.3V182.1H520.5ZM765,178.9H848.6V182.1H765ZM514.1,182.1H662V185.3H514.1ZM761.8,182.1H845.4V185.3H761.8ZM510.8,185.3H662V188.5H510.8ZM758.5,185.3H845.4V188.5H758.5ZM507.6,188.5H662V191.7H507.6ZM758.5,188.5H842.2V191.7H758.5ZM501.2,191.7H662V195H501.2ZM758.5,191.7H842.2V195H758.5ZM498,195H662V198.2H498ZM758.5,195H839V198.2H758.5ZM491.5,198.2H662V201.4H491.5ZM758.5,198.2H839V201.4H758.5ZM485.1,201.4H665.3V204.6H485.1ZM755.3,201.4H835.8V204.6H755.3ZM478.7,204.6H668.5V207.8H478.7ZM755.3,204.6H835.8V207.8H755.3ZM478.7,207.8H671.7V211H478.7ZM752.1,207.8H832.5V211H752.1ZM475.5,211H678.1V214.3H475.5ZM752.1,211H832.5V214.3H752.1ZM475.5,214.3H684.6V217.5H475.5ZM748.9,214.3H829.3V217.5H748.9ZM472.2,217.5H691V220.7H472.2ZM745.7,217.5H829.3V220.7H745.7ZM472.2,220.7H691V223.9H472.2ZM742.5,220.7H826.1V223.9H742.5ZM469,223.9H694.2V227.1H469ZM739.2,223.9H826.1V227.1H739.2ZM459.4,227.1H694.2V230.4H459.4ZM736,227.1H822.9V230.4H736ZM449.7,230.4H697.4V233.6H449.7ZM732.8,230.4H819.7V233.6H732.8ZM443.3,233.6H697.4V236.8H443.3ZM729.6,233.6H816.5V236.8H729.6ZM440.1,236.8H700.6V240H440.1ZM723.2,236.8H813.2V240H723.2ZM436.9,240H700.6V243.2H436.9ZM719.9,240H810V243.2H719.9ZM436.9,243.2H703.9V246.4H436.9ZM707.1,243.2H806.8V246.4H707.1ZM433.6,246.4H700.6V249.7H433.6ZM703.9,246.4H803.6V249.7H703.9ZM433.6,249.7H800.4V252.9H433.6ZM436.9,252.9H800.4V256.1H436.9ZM436.9,256.1H691V259.3H436.9ZM694.2,256.1H797.2V259.3H694.2ZM436.9,259.3H687.8V262.5H436.9ZM694.2,259.3H793.9V262.5H694.2ZM436.9,262.5H684.6V265.8H436.9ZM691,262.5H787.5V265.8H691ZM436.9,265.8H681.3V269H436.9ZM687.8,265.8H781.1V269H687.8ZM436.9,269H674.9V272.2H436.9ZM684.6,269H774.6V272.2H684.6ZM436.9,272.2H671.7V275.4H436.9ZM681.3,272.2H768.2V275.4H681.3ZM436.9,275.4H668.5V278.6H436.9ZM678.1,275.4H761.8V278.6H678.1ZM440.1,278.6H662V281.8H440.1ZM678.1,278.6H758.5V281.8H678.1ZM440.1,281.8H658.8V285.1H440.1ZM674.9,281.8H755.3V285.1H674.9ZM443.3,285.1H652.4V288.3H443.3ZM671.7,285.1H752.1V288.3H671.7ZM443.3,288.3H642.7V291.5H443.3ZM671.7,288.3H745.7V291.5H671.7ZM446.5,291.5H636.3V294.7H446.5ZM668.5,291.5H739.2V294.7H668.5ZM449.7,294.7H629.9V297.9H449.7ZM668.5,294.7H732.8V297.9H668.5ZM456.2,297.9H623.4V301.2H456.2ZM671.7,297.9H723.2V301.2H671.7ZM459.4,301.2H613.8V304.4H459.4ZM671.7,301.2H716.7V304.4H671.7ZM465.8,304.4H604.1V307.6H465.8ZM671.7,304.4H710.3V307.6H671.7ZM478.7,307.6H597.7V310.8H478.7ZM674.9,307.6H697.4V310.8H674.9ZM494.8,310.8H581.6V314H494.8ZM510.8,314H568.7V317.2H510.8Z" fill="#33adf7"/>
<path d="M777.8,120.9H851.8V124.2H777.8ZM777.8,124.2H851.8V127.4H777.8ZM777.8,127.4H851.8V130.6H777.8ZM777.8,130.6H851.8V133.8H777.8ZM781.1,133.8H851.8V137H781.1ZM781.1,137H848.6V140.2H781.1ZM781.1,140.2H848.6V143.5H781.1ZM617,143.5H636.3V146.7H617ZM777.8,143.5H848.6V146.7H777.8ZM620.2,146.7H642.7V149.9H620.2ZM777.8,146.7H848.6V149.9H777.8ZM623.4,149.9H646V153.1H623.4ZM777.8,149.9H848.6V153.1H777.8ZM623.4,153.1H646V156.3H623.4ZM774.6,153.1H848.6V156.3H774.6ZM626.7,156.3H649.2V159.6H626.7ZM774.6,156.3H848.6V159.6H774.6ZM626.7,159.6H665.3V162.8H626.7ZM774.6,159.6H848.6V162.8H774.6ZM588.1,162.8H604.1V166H588.1ZM626.7,162.8H668.5V166H626.7ZM771.4,162.8H848.6V166H771.4ZM578.4,166H604.1V169.2H578.4ZM623.4,166H671.7V169.2H623.4ZM771.4,166H845.4V169.2H771.4ZM568.7,169.2H607.4V172.4H568.7ZM623.4,169.2H668.5V172.4H623.4ZM768.2,169.2H845.4V172.4H768.2ZM562.3,172.4H668.5V175.6H562.3ZM768.2,172.4H845.4V175.6H768.2ZM552.7,175.6H668.5V178.9H552.7ZM768.2,175.6H845.4V178.9H768.2ZM546.2,178.9H665.3V182.1H546.2ZM765,178.9H842.2V182.1H765ZM539.8,182.1H662V185.3H539.8ZM761.8,182.1H842.2V185.3H761.8ZM533.4,185.3H662V188.5H533.4ZM761.8,185.3H842.2V188.5H761.8ZM526.9,188.5H658.8V191.7H526.9ZM758.5,188.5H839V191.7H758.5ZM520.5,191.7H658.8V195H520.5ZM758.5,191.7H839V195H758.5ZM517.3,195H662V198.2H517.3ZM758.5,195H835.8V198.2H758.5ZM510.8,198.2H662V201.4H510.8ZM758.5,198.2H835.8V201.4H758.5ZM504.4,201.4H662V204.6H504.4ZM758.5,201.4H832.5V204.6H758.5ZM498,204.6H665.3V207.8H498ZM755.3,204.6H829.3V207.8H755.3ZM494.8,207.8H668.5V211H494.8ZM752.1,207.8H829.3V211H752.1ZM488.3,211H678.1V214.3H488.3ZM752.1,211H829.3V214.3H752.1ZM485.1,214.3H681.3V217.5H485.1ZM748.9,214.3H826.1V217.5H748.9ZM481.9,217.5H684.6V220.7H481.9ZM745.7,217.5H826.1V220.7H745.7ZM478.7,220.7H687.8V223.9H478.7ZM742.5,220.7H822.9V223.9H742.5ZM475.5,223.9H691V227.1H475.5ZM739.2,223.9H822.9V227.1H739.2ZM472.2,227.1H691V230.4H472.2ZM736,227.1H819.7V230.4H736ZM456.2,230.4H694.2V233.6H456.2ZM736,230.4H816.5V233.6H736ZM446.5,233.6H694.2V236.8H446.5ZM729.6,233.6H813.2V236.8H729.6ZM443.3,236.8H697.4V240H443.3ZM726.4,236.8H810V240H726.4ZM440.1,240H697.4V243.2H440.1ZM723.2,240H806.8V243.2H723.2ZM436.9,243.2H700.6V246.4H436.9ZM710.3,243.2H803.6V246.4H710.3ZM436.9,246.4H700.6V249.7H436.9ZM707.1,246.4H800.4V249.7H707.1ZM436.9,249.7H697.4V252.9H436.9ZM703.9,249.7H797.2V252.9H703.9ZM436.9,252.9H694.2V256.1H436.9ZM700.6,252.9H797.2V256.1H700.6ZM436.9,256.1H691V259.3H436.9ZM697.4,256.1H793.9V259.3H697.4ZM440.1,259.3H687.8V262.5H440.1ZM694.2,259.3H787.5V262.5H694.2ZM436.9,262.5H681.3V265.8H436.9ZM691,262.5H784.3V265.8H691ZM436.9,265.8H678.1V269H436.9ZM687.8,265.8H777.8V269H687.8ZM436.9,269H674.9V272.2H436.9ZM687.8,269H768.2V272.2H687.8ZM436.9,272.2H668.5V275.4H436.9ZM684.6,272.2H765V275.4H684.6ZM440.1,275.4H665.3V278.6H440.1ZM681.3,275.4H758.5V278.6H681.3ZM440.1,278.6H662V281.8H440.1ZM678.1,278.6H755.3V281.8H678.1ZM443.3,281.8H655.6V285.1H443.3ZM674.9,281.8H752.1V285.1H674.9ZM443.3,285.1H649.2V288.3H443.3ZM674.9,285.1H748.9V288.3H674.9ZM446.5,288.3H639.5V291.5H446.5ZM674.9,288.3H742.5V291.5H674.9ZM446.5,291.5H633.1V294.7H446.5ZM674.9,291.5H736V294.7H674.9ZM452.9,294.7H626.7V297.9H452.9ZM674.9,294.7H726.4V297.9H674.9ZM456.2,297.9H617V301.2H456.2ZM674.9,297.9H719.9V301.2H674.9ZM462.6,301.2H607.4V304.4H462.6ZM678.1,301.2H713.5V304.4H678.1ZM472.2,304.4H600.9V307.6H472.2ZM681.3,304.4H700.6V307.6H681.3ZM488.3,307.6H584.8V310.8H488.3ZM507.6,310.8H572V314H507.6Z" fill="#2fb2f4"/>
<path d="M781.1,120.9H845.4V124.2H781.1ZM781.1,124.2H845.4V127.4H781.1ZM781.1,127.4H845.4V130.6H781.1ZM781.1,130.6H845.4V133.8H781.1ZM781.1,133.8H845.4V137H781.1ZM781.1,137H845.4V140.2H781.1ZM781.1,140.2H845.4V143.5H781.1ZM781.1,143.5H845.4V146.7H781.1ZM623.4,146.7H636.3V149.9H623.4ZM781.1,146.7H845.4V149.9H781.1ZM626.7,149.9H639.5V153.1H626.7ZM781.1,149.9H845.4V153.1H781.1ZM626.7,153.1H642.7V156.3H626.7ZM777.8,153.1H845.4V156.3H777.8ZM626.7,156.3H646V159.6H626.7ZM774.6,156.3H845.4V159.6H774.6ZM626.7,159.6H649.2V162.8H626.7ZM774.6,159.6H845.4V162.8H774.6ZM626.7,162.8H662V166H626.7ZM774.6,162.8H842.2V166H774.6ZM591.3,166H600.9V169.2H591.3ZM626.7,166H665.3V169.2H626.7ZM771.4,166H842.2V169.2H771.4ZM584.8,169.2H604.1V172.4H584.8ZM623.4,169.2H668.5V172.4H623.4ZM771.4,169.2H842.2V172.4H771.4ZM578.4,172.4H610.6V175.6H578.4ZM620.2,172.4H665.3V175.6H620.2ZM771.4,172.4H842.2V175.6H771.4ZM572,175.6H665.3V178.9H572ZM768.2,175.6H839V178.9H768.2ZM565.5,178.9H662V182.1H565.5ZM765,178.9H839V182.1H765ZM559.1,182.1H662V185.3H559.1ZM761.8,182.1H839V185.3H761.8ZM552.7,185.3H658.8V188.5H552.7ZM761.8,185.3H835.8V188.5H761.8ZM549.4,188.5H658.8V191.7H549.4ZM761.8,188.5H835.8V191.7H761.8ZM543,191.7H658.8V195H543ZM761.8,191.7H832.5V195H761.8ZM536.6,195H658.8V198.2H536.6ZM761.8,195H832.5V198.2H761.8ZM530.1,198.2H658.8V201.4H530.1ZM761.8,198.2H829.3V201.4H761.8ZM523.7,201.4H662V204.6H523.7ZM758.5,201.4H829.3V204.6H758.5ZM517.3,204.6H665.3V207.8H517.3ZM755.3,204.6H826.1V207.8H755.3ZM510.8,207.8H668.5V211H510.8ZM755.3,207.8H826.1V211H755.3ZM504.4,211H674.9V214.3H504.4ZM752.1,211H822.9V214.3H752.1ZM498,214.3H678.1V217.5H498ZM748.9,214.3H822.9V217.5H748.9ZM494.8,217.5H681.3V220.7H494.8ZM745.7,217.5H822.9V220.7H745.7ZM488.3,220.7H684.6V223.9H488.3ZM742.5,220.7H819.7V223.9H742.5ZM485.1,223.9H684.6V227.1H485.1ZM739.2,223.9H819.7V227.1H739.2ZM481.9,227.1H687.8V230.4H481.9ZM736,227.1H816.5V230.4H736ZM478.7,230.4H687.8V233.6H478.7ZM736,230.4H813.2V233.6H736ZM472.2,233.6H691V236.8H472.2ZM729.6,233.6H810V236.8H729.6ZM456.2,236.8H694.2V240H456.2ZM726.4,236.8H806.8V240H726.4ZM449.7,240H694.2V243.2H449.7ZM723.2,240H806.8V243.2H723.2ZM443.3,243.2H697.4V246.4H443.3ZM713.5,243.2H800.4V246.4H713.5ZM443.3,246.4H697.4V249.7H443.3ZM707.1,246.4H797.2V249.7H707.1ZM440.1,249.7H694.2V252.9H440.1ZM703.9,249.7H793.9V252.9H703.9ZM440.1,252.9H691V256.1H440.1ZM700.6,252.9H793.9V256.1H700.6ZM440.1,256.1H687.8V259.3H440.1ZM697.4,256.1H787.5V259.3H697.4ZM440.1,259.3H684.6V262.5H440.1ZM694.2,259.3H784.3V262.5H694.2ZM440.1,262.5H681.3V265.8H440.1ZM694.2,262.5H777.8V265.8H694.2ZM440.1,265.8H678.1V269H440.1ZM691,265.8H771.4V269H691ZM440.1,269H671.7V272.2H440.1ZM687.8,269H765V272.2H687.8ZM440.1,272.2H668.5V275.4H440.1ZM684.6,272.2H758.5V275.4H684.6ZM440.1,275.4H665.3V278.6H440.1ZM681.3,275.4H755.3V278.6H681.3ZM440.1,278.6H658.8V281.8H440.1ZM681.3,278.6H752.1V281.8H681.3ZM443.3,281.8H655.6V285.1H443.3ZM678.1,281.8H748.9V285.1H678.1ZM446.5,285.1H646V288.3H446.5ZM678.1,285.1H742.5V288.3H678.1ZM446.5,288.3H639.5V291.5H446.5ZM678.1,288.3H736V291.5H678.1ZM449.7,291.5H629.9V294.7H449.7ZM678.1,291.5H729.6V294.7H678.1ZM452.9,294.7H623.4V297.9H452.9ZM681.3,294.7H723.2V297.9H681.3ZM456.2,297.9H613.8V301.2H456.2ZM681.3,297.9H713.5V301.2H681.3ZM462.6,301.2H604.1V304.4H462.6ZM691,301.2H700.6V304.4H691ZM475.5,304.4H597.7V307.6H475.5ZM491.5,307.6H581.6V310.8H491.5ZM510.8,310.8H568.7V314H510.8Z" fill="#2eb4f2"/>
<path d="M787.5,120.9H842.2V124.2H787.5ZM787.5,124.2H842.2V127.4H787.5ZM787.5,127.4H842.2V130.6H787.5ZM787.5,130.6H842.2V133.8H787.5ZM787.5,133.8H842.2V137H787.5ZM787.5,137H842.2V140.2H787.5ZM787.5,140.2H842.2V143.5H787.5ZM787.5,143.5H842.2V146.7H787.5ZM784.3,146.7H842.2V149.9H784.3ZM629.9,149.9H636.3V153.1H629.9ZM784.3,149.9H842.2V153.1H784.3ZM629.9,153.1H639.5V156.3H629.9ZM781.1,153.1H839V156.3H781.1ZM629.9,156.3H642.7V159.6H629.9ZM777.8,156.3H839V159.6H777.8ZM626.7,159.6H646V162.8H626.7ZM774.6,159.6H839V162.8H774.6ZM626.7,162.8H649.2V166H626.7ZM774.6,162.8H839V166H774.6ZM626.7,166H662V169.2H626.7ZM771.4,166H839V169.2H771.4ZM594.5,169.2H600.9V172.4H594.5ZM623.4,169.2H665.3V172.4H623.4ZM771.4,169.2H839V172.4H771.4ZM588.1,172.4H607.4V175.6H588.1ZM620.2,172.4H665.3V175.6H620.2ZM771.4,172.4H835.8V175.6H771.4ZM584.8,175.6H662V178.9H584.8ZM771.4,175.6H835.8V178.9H771.4ZM581.6,178.9H662V182.1H581.6ZM768.2,178.9H835.8V182.1H768.2ZM578.4,182.1H658.8V185.3H578.4ZM765,182.1H832.5V185.3H765ZM572,185.3H658.8V188.5H572ZM761.8,185.3H832.5V188.5H761.8ZM565.5,188.5H658.8V191.7H565.5ZM761.8,188.5H829.3V191.7H761.8ZM559.1,191.7H658.8V195H559.1ZM761.8,191.7H829.3V195H761.8ZM552.7,195H658.8V198.2H552.7ZM761.8,195H829.3V198.2H761.8ZM549.4,198.2H658.8V201.4H549.4ZM761.8,198.2H826.1V201.4H761.8ZM543,201.4H662V204.6H543ZM758.5,201.4H826.1V204.6H758.5ZM536.6,204.6H665.3V207.8H536.6ZM758.5,204.6H822.9V207.8H758.5ZM530.1,207.8H665.3V211H530.1ZM755.3,207.8H822.9V211H755.3ZM523.7,211H671.7V214.3H523.7ZM752.1,211H819.7V214.3H752.1ZM514.1,214.3H674.9V217.5H514.1ZM748.9,214.3H819.7V217.5H748.9ZM507.6,217.5H678.1V220.7H507.6ZM745.7,217.5H816.5V220.7H745.7ZM501.2,220.7H681.3V223.9H501.2ZM742.5,220.7H816.5V223.9H742.5ZM494.8,223.9H681.3V227.1H494.8ZM739.2,223.9H813.2V227.1H739.2ZM488.3,227.1H684.6V230.4H488.3ZM736,227.1H813.2V230.4H736ZM485.1,230.4H684.6V233.6H485.1ZM736,230.4H810V233.6H736ZM481.9,233.6H687.8V236.8H481.9ZM729.6,233.6H806.8V236.8H729.6ZM475.5,236.8H687.8V240H475.5ZM726.4,236.8H803.6V240H726.4ZM462.6,240H691V243.2H462.6ZM723.2,240H800.4V243.2H723.2ZM452.9,243.2H694.2V246.4H452.9ZM716.7,243.2H797.2V246.4H716.7ZM446.5,246.4H694.2V249.7H446.5ZM707.1,246.4H793.9V249.7H707.1ZM443.3,249.7H694.2V252.9H443.3ZM707.1,249.7H790.7V252.9H707.1ZM443.3,252.9H691V256.1H443.3ZM703.9,252.9H787.5V256.1H703.9ZM443.3,256.1H687.8V259.3H443.3ZM700.6,256.1H784.3V259.3H700.6ZM440.1,259.3H684.6V262.5H440.1ZM697.4,259.3H777.8V262.5H697.4ZM440.1,262.5H678.1V265.8H440.1ZM694.2,262.5H771.4V265.8H694.2ZM440.1,265.8H674.9V269H440.1ZM691,265.8H765V269H691ZM440.1,269H671.7V272.2H440.1ZM687.8,269H761.8V272.2H687.8ZM440.1,272.2H668.5V275.4H440.1ZM687.8,272.2H755.3V275.4H687.8ZM443.3,275.4H662V278.6H443.3ZM684.6,275.4H752.1V278.6H684.6ZM443.3,278.6H658.8V281.8H443.3ZM681.3,278.6H748.9V281.8H681.3ZM446.5,281.8H652.4V285.1H446.5ZM681.3,281.8H745.7V285.1H681.3ZM446.5,285.1H642.7V288.3H446.5ZM681.3,285.1H739.2V288.3H681.3ZM449.7,288.3H636.3V291.5H449.7ZM684.6,288.3H732.8V291.5H684.6ZM452.9,291.5H626.7V294.7H452.9ZM684.6,291.5H723.2V294.7H684.6ZM456.2,294.7H620.2V297.9H456.2ZM687.8,294.7H716.7V297.9H687.8ZM459.4,297.9H610.6V301.2H459.4ZM465.8,301.2H600.9V304.4H465.8ZM478.7,304.4H594.5V307.6H478.7ZM494.8,307.6H578.4V310.8H494.8ZM520.5,310.8H565.5V314H520.5Z" fill="#2ab9ee"/>
<path d="M790.7,120.9H835.8V124.2H790.7ZM790.7,124.2H839V127.4H790.7ZM790.7,127.4H839V130.6H790.7ZM790.7,130.6H839V133.8H790.7ZM790.7,133.8H835.8V137H790.7ZM790.7,137H835.8V140.2H790.7ZM790.7,140.2H835.8V143.5H790.7ZM790.7,143.5H835.8V146.7H790.7ZM787.5,146.7H835.8V149.9H787.5ZM787.5,149.9H835.8V153.1H787.5ZM784.3,153.1H835.8V156.3H784.3ZM629.9,156.3H639.5V159.6H629.9ZM781.1,156.3H835.8V159.6H781.1ZM629.9,159.6H642.7V162.8H629.9ZM777.8,159.6H835.8V162.8H777.8ZM629.9,162.8H646V166H629.9ZM777.8,162.8H835.8V166H777.8ZM626.7,166H652.4V169.2H626.7ZM774.6,166H832.5V169.2H774.6ZM626.7,169.2H658.8V172.4H626.7ZM771.4,169.2H832.5V172.4H771.4ZM623.4,172.4H662V175.6H623.4ZM771.4,172.4H832.5V175.6H771.4ZM594.5,175.6H662V178.9H594.5ZM771.4,175.6H832.5V178.9H771.4ZM591.3,178.9H658.8V182.1H591.3ZM768.2,178.9H829.3V182.1H768.2ZM588.1,182.1H658.8V185.3H588.1ZM765,182.1H829.3V185.3H765ZM584.8,185.3H658.8V188.5H584.8ZM765,185.3H829.3V188.5H765ZM581.6,188.5H655.6V191.7H581.6ZM761.8,188.5H826.1V191.7H761.8ZM575.2,191.7H655.6V195H575.2ZM761.8,191.7H826.1V195H761.8ZM568.7,195H658.8V198.2H568.7ZM761.8,195H822.9V198.2H761.8ZM562.3,198.2H658.8V201.4H562.3ZM761.8,198.2H822.9V201.4H761.8ZM555.9,201.4H658.8V204.6H555.9ZM761.8,201.4H819.7V204.6H761.8ZM552.7,204.6H662V207.8H552.7ZM758.5,204.6H819.7V207.8H758.5ZM546.2,207.8H665.3V211H546.2ZM755.3,207.8H819.7V211H755.3ZM543,211H668.5V214.3H543ZM755.3,211H816.5V214.3H755.3ZM533.4,214.3H671.7V217.5H533.4ZM752.1,214.3H816.5V217.5H752.1ZM526.9,217.5H674.9V220.7H526.9ZM745.7,217.5H813.2V220.7H745.7ZM517.3,220.7H678.1V223.9H517.3ZM742.5,220.7H813.2V223.9H742.5ZM507.6,223.9H678.1V227.1H507.6ZM739.2,223.9H810V227.1H739.2ZM501.2,227.1H681.3V230.4H501.2ZM739.2,227.1H810V230.4H739.2ZM494.8,230.4H681.3V233.6H494.8ZM736,230.4H806.8V233.6H736ZM488.3,233.6H681.3V236.8H488.3ZM732.8,233.6H803.6V236.8H732.8ZM481.9,236.8H684.6V240H481.9ZM726.4,236.8H800.4V240H726.4ZM475.5,240H684.6V243.2H475.5ZM723.2,240H797.2V243.2H723.2ZM462.6,243.2H687.8V246.4H462.6ZM716.7,243.2H793.9V246.4H716.7ZM452.9,246.4H687.8V249.7H452.9ZM710.3,246.4H790.7V249.7H710.3ZM449.7,249.7H687.8V252.9H449.7ZM707.1,249.7H787.5V252.9H707.1ZM446.5,252.9H687.8V256.1H446.5ZM703.9,252.9H784.3V256.1H703.9ZM443.3,256.1H684.6V259.3H443.3ZM700.6,256.1H777.8V259.3H700.6ZM443.3,259.3H681.3V262.5H443.3ZM697.4,259.3H771.4V262.5H697.4ZM443.3,262.5H678.1V265.8H443.3ZM694.2,262.5H765V265.8H694.2ZM443.3,265.8H674.9V269H443.3ZM694.2,265.8H761.8V269H694.2ZM443.3,269H671.7V272.2H443.3ZM691,269H758.5V272.2H691ZM443.3,272.2H665.3V275.4H443.3ZM687.8,272.2H752.1V275.4H687.8ZM443.3,275.4H662V278.6H443.3ZM687.8,275.4H748.9V278.6H687.8ZM446.5,278.6H655.6V281.8H446.5ZM684.6,278.6H745.7V281.8H684.6ZM446.5,281.8H649.2V285.1H446.5ZM684.6,281.8H739.2V285.1H684.6ZM449.7,285.1H639.5V288.3H449.7ZM687.8,285.1H732.8V288.3H687.8ZM449.7,288.3H629.9V291.5H449.7ZM691,288.3H726.4V291.5H691ZM452.9,291.5H623.4V294.7H452.9ZM694.2,291.5H716.7V294.7H694.2ZM459.4,294.7H617V297.9H459.4ZM462.6,297.9H607.4V301.2H462.6ZM475.5,301.2H597.7V304.4H475.5ZM491.5,304.4H584.8V307.6H491.5ZM510.8,307.6H572V310.8H510.8Z" fill="#28bceb"/>
<path d="M797.2,120.9H832.5V124.2H797.2ZM797.2,124.2H832.5V127.4H797.2ZM797.2,127.4H832.5V130.6H797.2ZM797.2,130.6H832.5V133.8H797.2ZM797.2,133.8H832.5V137H797.2ZM797.2,137H832.5V140.2H797.2ZM793.9,140.2H832.5V143.5H793.9ZM793.9,143.5H832.5V146.7H793.9ZM793.9,146.7H832.5V149.9H793.9ZM790.7,149.9H832.5V153.1H790.7ZM787.5,153.1H832.5V156.3H787.5ZM787.5,156.3H832.5V159.6H787.5ZM633.1,159.6H639.5V162.8H633.1ZM784.3,159.6H829.3V162.8H784.3ZM629.9,162.8H642.7V166H629.9ZM781.1,162.8H829.3V166H781.1ZM629.9,166H646V169.2H629.9ZM777.8,166H829.3V169.2H777.8ZM626.7,169.2H652.4V172.4H626.7ZM774.6,169.2H829.3V172.4H774.6ZM623.4,172.4H658.8V175.6H623.4ZM774.6,172.4H829.3V175.6H774.6ZM620.2,175.6H658.8V178.9H620.2ZM771.4,175.6H826.1V178.9H771.4ZM597.7,178.9H658.8V182.1H597.7ZM771.4,178.9H826.1V182.1H771.4ZM594.5,182.1H655.6V185.3H594.5ZM768.2,182.1H826.1V185.3H768.2ZM594.5,185.3H655.6V188.5H594.5ZM765,185.3H822.9V188.5H765ZM591.3,188.5H655.6V191.7H591.3ZM765,188.5H822.9V191.7H765ZM588.1,191.7H655.6V195H588.1ZM765,191.7H822.9V195H765ZM584.8,195H655.6V198.2H584.8ZM765,195H819.7V198.2H765ZM578.4,198.2H655.6V201.4H578.4ZM765,198.2H819.7V201.4H765ZM572,201.4H658.8V204.6H572ZM761.8,201.4H816.5V204.6H761.8ZM565.5,204.6H662V207.8H565.5ZM761.8,204.6H816.5V207.8H761.8ZM559.1,207.8H662V211H559.1ZM758.5,207.8H813.2V211H758.5ZM552.7,211H665.3V214.3H552.7ZM755.3,211H813.2V214.3H755.3ZM549.4,214.3H668.5V217.5H549.4ZM752.1,214.3H813.2V217.5H752.1ZM543,217.5H671.7V220.7H543ZM748.9,217.5H810V220.7H748.9ZM533.4,220.7H674.9V223.9H533.4ZM745.7,220.7H810V223.9H745.7ZM523.7,223.9H674.9V227.1H523.7ZM742.5,223.9H806.8V227.1H742.5ZM514.1,227.1H674.9V230.4H514.1ZM739.2,227.1H803.6V230.4H739.2ZM504.4,230.4H678.1V233.6H504.4ZM736,230.4H803.6V233.6H736ZM498,233.6H678.1V236.8H498ZM732.8,233.6H800.4V236.8H732.8ZM491.5,236.8H681.3V240H491.5ZM726.4,236.8H797.2V240H726.4ZM485.1,240H681.3V243.2H485.1ZM723.2,240H793.9V243.2H723.2ZM478.7,243.2H681.3V246.4H478.7ZM719.9,243.2H790.7V246.4H719.9ZM462.6,246.4H684.6V249.7H462.6ZM710.3,246.4H787.5V249.7H710.3ZM452.9,249.7H684.6V252.9H452.9ZM707.1,249.7H781.1V252.9H707.1ZM449.7,252.9H684.6V256.1H449.7ZM703.9,252.9H777.8V256.1H703.9ZM446.5,256.1H681.3V259.3H446.5ZM700.6,256.1H771.4V259.3H700.6ZM446.5,259.3H678.1V262.5H446.5ZM697.4,259.3H768.2V262.5H697.4ZM443.3,262.5H674.9V265.8H443.3ZM697.4,262.5H761.8V265.8H697.4ZM443.3,265.8H671.7V269H443.3ZM694.2,265.8H758.5V269H694.2ZM443.3,269H668.5V272.2H443.3ZM691,269H752.1V272.2H691ZM443.3,272.2H665.3V275.4H443.3ZM691,272.2H748.9V275.4H691ZM446.5,275.4H658.8V278.6H446.5ZM691,275.4H745.7V278.6H691ZM446.5,278.6H652.4V281.8H446.5ZM691,278.6H739.2V281.8H691ZM449.7,281.8H646V285.1H449.7ZM691,281.8H732.8V285.1H691ZM449.7,285.1H636.3V288.3H449.7ZM694.2,285.1H726.4V288.3H694.2ZM452.9,288.3H626.7V291.5H452.9ZM697.4,288.3H719.9V291.5H697.4ZM456.2,291.5H620.2V294.7H456.2ZM459.4,294.7H610.6V297.9H459.4ZM465.8,297.9H600.9V301.2H465.8ZM478.7,301.2H594.5V304.4H478.7ZM494.8,304.4H578.4V307.6H494.8ZM520.5,307.6H565.5V310.8H520.5Z" fill="#27bee9"/>
<path d="M810,120.9H826.1V124.2H810ZM806.8,124.2H826.1V127.4H806.8ZM806.8,127.4H826.1V130.6H806.8ZM803.6,130.6H826.1V133.8H803.6ZM803.6,133.8H826.1V137H803.6ZM800.4,137H826.1V140.2H800.4ZM800.4,140.2H826.1V143.5H800.4ZM800.4,143.5H826.1V146.7H800.4ZM797.2,146.7H826.1V149.9H797.2ZM793.9,149.9H826.1V153.1H793.9ZM793.9,153.1H826.1V156.3H793.9ZM790.7,156.3H826.1V159.6H790.7ZM787.5,159.6H826.1V162.8H787.5ZM633.1,162.8H639.5V166H633.1ZM784.3,162.8H826.1V166H784.3ZM633.1,166H642.7V169.2H633.1ZM781.1,166H826.1V169.2H781.1ZM629.9,169.2H646V172.4H629.9ZM777.8,169.2H826.1V172.4H777.8ZM626.7,172.4H652.4V175.6H626.7ZM777.8,172.4H822.9V175.6H777.8ZM623.4,175.6H655.6V178.9H623.4ZM774.6,175.6H822.9V178.9H774.6ZM607.4,178.9H655.6V182.1H607.4ZM774.6,178.9H822.9V182.1H774.6ZM600.9,182.1H655.6V185.3H600.9ZM771.4,182.1H822.9V185.3H771.4ZM597.7,185.3H655.6V188.5H597.7ZM768.2,185.3H819.7V188.5H768.2ZM597.7,188.5H655.6V191.7H597.7ZM768.2,188.5H819.7V191.7H768.2ZM594.5,191.7H655.6V195H594.5ZM768.2,191.7H816.5V195H768.2ZM591.3,195H655.6V198.2H591.3ZM765,195H816.5V198.2H765ZM588.1,198.2H655.6V201.4H588.1ZM765,198.2H816.5V201.4H765ZM581.6,201.4H655.6V204.6H581.6ZM765,201.4H813.2V204.6H765ZM578.4,204.6H658.8V207.8H578.4ZM761.8,204.6H813.2V207.8H761.8ZM572,207.8H662V211H572ZM758.5,207.8H810V211H758.5ZM565.5,211H665.3V214.3H565.5ZM755.3,211H810V214.3H755.3ZM559.1,214.3H668.5V217.5H559.1ZM752.1,214.3H810V217.5H752.1ZM555.9,217.5H668.5V220.7H555.9ZM748.9,217.5H806.8V220.7H748.9ZM549.4,220.7H671.7V223.9H549.4ZM745.7,220.7H806.8V223.9H745.7ZM539.8,223.9H671.7V227.1H539.8ZM742.5,223.9H803.6V227.1H742.5ZM530.1,227.1H671.7V230.4H530.1ZM739.2,227.1H800.4V230.4H739.2ZM520.5,230.4H674.9V233.6H520.5ZM739.2,230.4H800.4V233.6H739.2ZM510.8,233.6H674.9V236.8H510.8ZM736,233.6H797.2V236.8H736ZM504.4,236.8H674.9V240H504.4ZM729.6,236.8H793.9V240H729.6ZM494.8,240H678.1V243.2H494.8ZM726.4,240H790.7V243.2H726.4ZM488.3,243.2H678.1V246.4H488.3ZM723.2,243.2H787.5V246.4H723.2ZM478.7,246.4H678.1V249.7H478.7ZM710.3,246.4H781.1V249.7H710.3ZM465.8,249.7H678.1V252.9H465.8ZM707.1,249.7H777.8V252.9H707.1ZM456.2,252.9H678.1V256.1H456.2ZM707.1,252.9H771.4V256.1H707.1ZM449.7,256.1H678.1V259.3H449.7ZM703.9,256.1H768.2V259.3H703.9ZM449.7,259.3H674.9V262.5H449.7ZM700.6,259.3H761.8V262.5H700.6ZM446.5,262.5H674.9V265.8H446.5ZM697.4,262.5H758.5V265.8H697.4ZM446.5,265.8H671.7V269H446.5ZM694.2,265.8H752.1V269H694.2ZM446.5,269H665.3V272.2H446.5ZM694.2,269H748.9V272.2H694.2ZM446.5,272.2H662V275.4H446.5ZM694.2,272.2H745.7V275.4H694.2ZM446.5,275.4H655.6V278.6H446.5ZM694.2,275.4H739.2V278.6H694.2ZM449.7,278.6H649.2V281.8H449.7ZM694.2,278.6H736V281.8H694.2ZM452.9,281.8H639.5V285.1H452.9ZM694.2,281.8H726.4V285.1H694.2ZM452.9,285.1H629.9V288.3H452.9ZM700.6,285.1H719.9V288.3H700.6ZM456.2,288.3H623.4V291.5H456.2ZM459.4,291.5H613.8V294.7H459.4ZM462.6,294.7H604.1V297.9H462.6ZM475.5,297.9H597.7V301.2H475.5ZM491.5,301.2H581.6V304.4H491.5ZM514.1,304.4H568.7V307.6H514.1Z" fill="#23c3e4"/>
<path d="M813.2,137H816.5V140.2H813.2ZM810,140.2H819.7V143.5H810ZM806.8,143.5H819.7V146.7H806.8ZM803.6,146.7H819.7V149.9H803.6ZM800.4,149.9H819.7V153.1H800.4ZM797.2,153.1H819.7V156.3H797.2ZM793.9,156.3H819.7V159.6H793.9ZM793.9,159.6H819.7V162.8H793.9ZM790.7,162.8H819.7V166H790.7ZM787.5,166H819.7V169.2H787.5ZM633.1,169.2H636.3V172.4H633.1ZM784.3,169.2H819.7V172.4H784.3ZM629.9,172.4H642.7V175.6H629.9ZM781.1,172.4H819.7V175.6H781.1ZM623.4,175.6H652.4V178.9H623.4ZM777.8,175.6H819.7V178.9H777.8ZM617,178.9H652.4V182.1H617ZM777.8,178.9H816.5V182.1H777.8ZM607.4,182.1H652.4V185.3H607.4ZM774.6,182.1H816.5V185.3H774.6ZM604.1,185.3H652.4V188.5H604.1ZM771.4,185.3H816.5V188.5H771.4ZM600.9,188.5H652.4V191.7H600.9ZM771.4,188.5H816.5V191.7H771.4ZM600.9,191.7H652.4V195H600.9ZM771.4,191.7H813.2V195H771.4ZM597.7,195H652.4V198.2H597.7ZM768.2,195H813.2V198.2H768.2ZM594.5,198.2H652.4V201.4H594.5ZM768.2,198.2H810V201.4H768.2ZM591.3,201.4H655.6V204.6H591.3ZM768.2,201.4H810V204.6H768.2ZM588.1,204.6H658.8V207.8H588.1ZM765,204.6H810V207.8H765ZM581.6,207.8H658.8V211H581.6ZM761.8,207.8H806.8V211H761.8ZM578.4,211H662V214.3H578.4ZM758.5,211H806.8V214.3H758.5ZM572,214.3H665.3V217.5H572ZM755.3,214.3H803.6V217.5H755.3ZM565.5,217.5H665.3V220.7H565.5ZM752.1,217.5H803.6V220.7H752.1ZM559.1,220.7H668.5V223.9H559.1ZM748.9,220.7H800.4V223.9H748.9ZM552.7,223.9H668.5V227.1H552.7ZM742.5,223.9H800.4V227.1H742.5ZM546.2,227.1H668.5V230.4H546.2ZM739.2,227.1H797.2V230.4H739.2ZM536.6,230.4H671.7V233.6H536.6ZM739.2,230.4H793.9V233.6H739.2ZM526.9,233.6H671.7V236.8H526.9ZM736,233.6H793.9V236.8H736ZM517.3,236.8H671.7V240H517.3ZM729.6,236.8H790.7V240H729.6ZM507.6,240H671.7V243.2H507.6ZM726.4,240H784.3V243.2H726.4ZM498,243.2H674.9V246.4H498ZM723.2,243.2H781.1V246.4H723.2ZM491.5,246.4H674.9V249.7H491.5ZM713.5,246.4H777.8V249.7H713.5ZM478.7,249.7H674.9V252.9H478.7ZM710.3,249.7H771.4V252.9H710.3ZM465.8,252.9H674.9V256.1H465.8ZM707.1,252.9H768.2V256.1H707.1ZM456.2,256.1H674.9V259.3H456.2ZM703.9,256.1H761.8V259.3H703.9ZM452.9,259.3H671.7V262.5H452.9ZM700.6,259.3H758.5V262.5H700.6ZM449.7,262.5H671.7V265.8H449.7ZM700.6,262.5H752.1V265.8H700.6ZM449.7,265.8H668.5V269H449.7ZM697.4,265.8H748.9V269H697.4ZM449.7,269H662V272.2H449.7ZM697.4,269H745.7V272.2H697.4ZM449.7,272.2H655.6V275.4H449.7ZM697.4,272.2H739.2V275.4H697.4ZM452.9,275.4H649.2V278.6H452.9ZM697.4,275.4H736V278.6H697.4ZM452.9,278.6H639.5V281.8H452.9ZM697.4,278.6H729.6V281.8H697.4ZM456.2,281.8H633.1V285.1H456.2ZM700.6,281.8H719.9V285.1H700.6ZM456.2,285.1H623.4V288.3H456.2ZM459.4,288.3H617V291.5H459.4ZM462.6,291.5H604.1V294.7H462.6ZM469,294.7H597.7V297.9H469ZM485.1,297.9H581.6V301.2H485.1ZM498,301.2H568.7V304.4H498Z" fill="#22c5e2"/>
<path d="M803.6,156.3H813.2V159.6H803.6ZM800.4,159.6H813.2V162.8H800.4ZM793.9,162.8H813.2V166H793.9ZM790.7,166H813.2V169.2H790.7ZM787.5,169.2H813.2V172.4H787.5ZM787.5,172.4H813.2V175.6H787.5ZM629.9,175.6H639.5V178.9H629.9ZM784.3,175.6H813.2V178.9H784.3ZM623.4,178.9H649.2V182.1H623.4ZM781.1,178.9H813.2V182.1H781.1ZM617,182.1H649.2V185.3H617ZM777.8,182.1H813.2V185.3H777.8ZM610.6,185.3H649.2V188.5H610.6ZM777.8,185.3H813.2V188.5H777.8ZM607.4,188.5H649.2V191.7H607.4ZM774.6,188.5H810V191.7H774.6ZM604.1,191.7H649.2V195H604.1ZM774.6,191.7H810V195H774.6ZM600.9,195H649.2V198.2H600.9ZM771.4,195H810V198.2H771.4ZM600.9,198.2H649.2V201.4H600.9ZM771.4,198.2H806.8V201.4H771.4ZM597.7,201.4H652.4V204.6H597.7ZM768.2,201.4H806.8V204.6H768.2ZM594.5,204.6H655.6V207.8H594.5ZM768.2,204.6H806.8V207.8H768.2ZM591.3,207.8H658.8V211H591.3ZM765,207.8H803.6V211H765ZM584.8,211H658.8V214.3H584.8ZM761.8,211H803.6V214.3H761.8ZM581.6,214.3H662V217.5H581.6ZM758.5,214.3H800.4V217.5H758.5ZM578.4,217.5H662V220.7H578.4ZM752.1,217.5H800.4V220.7H752.1ZM572,220.7H665.3V223.9H572ZM748.9,220.7H797.2V223.9H748.9ZM565.5,223.9H665.3V227.1H565.5ZM745.7,223.9H797.2V227.1H745.7ZM559.1,227.1H665.3V230.4H559.1ZM742.5,227.1H793.9V230.4H742.5ZM552.7,230.4H665.3V233.6H552.7ZM739.2,230.4H790.7V233.6H739.2ZM543,233.6H668.5V236.8H543ZM739.2,233.6H787.5V236.8H739.2ZM533.4,236.8H668.5V240H533.4ZM732.8,236.8H784.3V240H732.8ZM523.7,240H668.5V243.2H523.7ZM729.6,240H781.1V243.2H729.6ZM514.1,243.2H668.5V246.4H514.1ZM723.2,243.2H777.8V246.4H723.2ZM504.4,246.4H668.5V249.7H504.4ZM716.7,246.4H771.4V249.7H716.7ZM494.8,249.7H668.5V252.9H494.8ZM710.3,249.7H768.2V252.9H710.3ZM481.9,252.9H668.5V256.1H481.9ZM707.1,252.9H761.8V256.1H707.1ZM469,256.1H668.5V259.3H469ZM707.1,256.1H758.5V259.3H707.1ZM459.4,259.3H668.5V262.5H459.4ZM703.9,259.3H752.1V262.5H703.9ZM456.2,262.5H665.3V265.8H456.2ZM700.6,262.5H748.9V265.8H700.6ZM452.9,265.8H662V269H452.9ZM700.6,265.8H742.5V269H700.6ZM452.9,269H655.6V272.2H452.9ZM700.6,269H739.2V272.2H700.6ZM456.2,272.2H649.2V275.4H456.2ZM700.6,272.2H732.8V275.4H700.6ZM456.2,275.4H639.5V278.6H456.2ZM700.6,275.4H729.6V278.6H700.6ZM459.4,278.6H633.1V281.8H459.4ZM703.9,278.6H719.9V281.8H703.9ZM459.4,281.8H623.4V285.1H459.4ZM462.6,285.1H610.6V288.3H462.6ZM465.8,288.3H600.9V291.5H465.8ZM472.2,291.5H584.8V294.7H472.2ZM485.1,294.7H575.2V297.9H485.1ZM494.8,297.9H562.3V301.2H494.8Z" fill="#20c7df"/>
<path d="M800.4,166H803.6V169.2H800.4ZM793.9,169.2H806.8V172.4H793.9ZM790.7,172.4H810V175.6H790.7ZM787.5,175.6H810V178.9H787.5ZM629.9,178.9H636.3V182.1H629.9ZM784.3,178.9H810V182.1H784.3ZM623.4,182.1H642.7V185.3H623.4ZM784.3,182.1H806.8V185.3H784.3ZM617,185.3H642.7V188.5H617ZM781.1,185.3H806.8V188.5H781.1ZM613.8,188.5H642.7V191.7H613.8ZM777.8,188.5H806.8V191.7H777.8ZM610.6,191.7H642.7V195H610.6ZM777.8,191.7H806.8V195H777.8ZM607.4,195H646V198.2H607.4ZM774.6,195H803.6V198.2H774.6ZM604.1,198.2H646V201.4H604.1ZM774.6,198.2H803.6V201.4H774.6ZM600.9,201.4H649.2V204.6H600.9ZM771.4,201.4H803.6V204.6H771.4ZM600.9,204.6H652.4V207.8H600.9ZM771.4,204.6H800.4V207.8H771.4ZM597.7,207.8H655.6V211H597.7ZM768.2,207.8H800.4V211H768.2ZM594.5,211H655.6V214.3H594.5ZM765,211H800.4V214.3H765ZM591.3,214.3H658.8V217.5H591.3ZM761.8,214.3H797.2V217.5H761.8ZM588.1,217.5H658.8V220.7H588.1ZM758.5,217.5H797.2V220.7H758.5ZM581.6,220.7H662V223.9H581.6ZM752.1,220.7H793.9V223.9H752.1ZM578.4,223.9H662V227.1H578.4ZM748.9,223.9H790.7V227.1H748.9ZM572,227.1H662V230.4H572ZM745.7,227.1H790.7V230.4H745.7ZM565.5,230.4H662V233.6H565.5ZM742.5,230.4H787.5V233.6H742.5ZM559.1,233.6H662V236.8H559.1ZM739.2,233.6H784.3V236.8H739.2ZM552.7,236.8H665.3V240H552.7ZM736,236.8H781.1V240H736ZM543,240H665.3V243.2H543ZM729.6,240H774.6V243.2H729.6ZM530.1,243.2H665.3V246.4H530.1ZM726.4,243.2H771.4V246.4H726.4ZM520.5,246.4H665.3V249.7H520.5ZM719.9,246.4H765V249.7H719.9ZM510.8,249.7H665.3V252.9H510.8ZM713.5,249.7H761.8V252.9H713.5ZM498,252.9H665.3V256.1H498ZM710.3,252.9H755.3V256.1H710.3ZM488.3,256.1H665.3V259.3H488.3ZM707.1,256.1H752.1V259.3H707.1ZM478.7,259.3H662V262.5H478.7ZM707.1,259.3H748.9V262.5H707.1ZM465.8,262.5H658.8V265.8H465.8ZM703.9,262.5H742.5V265.8H703.9ZM462.6,265.8H652.4V269H462.6ZM703.9,265.8H739.2V269H703.9ZM459.4,269H642.7V272.2H459.4ZM703.9,269H732.8V272.2H703.9ZM462.6,272.2H633.1V275.4H462.6ZM703.9,272.2H726.4V275.4H703.9ZM462.6,275.4H623.4V278.6H462.6ZM707.1,275.4H719.9V278.6H707.1ZM465.8,278.6H610.6V281.8H465.8ZM465.8,281.8H597.7V285.1H465.8ZM469,285.1H584.8V288.3H469ZM475.5,288.3H572V291.5H475.5ZM485.1,291.5H559.1V294.7H485.1ZM494.8,294.7H510.8V297.9H494.8Z" fill="#1ecbda"/>
<path d="M793.9,178.9H800.4V182.1H793.9ZM787.5,182.1H803.6V185.3H787.5ZM623.4,185.3H636.3V188.5H623.4ZM784.3,185.3H803.6V188.5H784.3ZM620.2,188.5H636.3V191.7H620.2ZM784.3,188.5H803.6V191.7H784.3ZM617,191.7H639.5V195H617ZM781.1,191.7H800.4V195H781.1ZM613.8,195H639.5V198.2H613.8ZM777.8,195H800.4V198.2H777.8ZM610.6,198.2H639.5V201.4H610.6ZM777.8,198.2H800.4V201.4H777.8ZM607.4,201.4H642.7V204.6H607.4ZM774.6,201.4H797.2V204.6H774.6ZM607.4,204.6H646V207.8H607.4ZM774.6,204.6H797.2V207.8H774.6ZM604.1,207.8H649.2V211H604.1ZM771.4,207.8H797.2V211H771.4ZM600.9,211H652.4V214.3H600.9ZM768.2,211H793.9V214.3H768.2ZM597.7,214.3H652.4V217.5H597.7ZM765,214.3H793.9V217.5H765ZM594.5,217.5H655.6V220.7H594.5ZM761.8,217.5H790.7V220.7H761.8ZM591.3,220.7H655.6V223.9H591.3ZM758.5,220.7H787.5V223.9H758.5ZM588.1,223.9H655.6V227.1H588.1ZM752.1,223.9H787.5V227.1H752.1ZM584.8,227.1H658.8V230.4H584.8ZM748.9,227.1H784.3V230.4H748.9ZM578.4,230.4H658.8V233.6H578.4ZM745.7,230.4H781.1V233.6H745.7ZM575.2,233.6H658.8V236.8H575.2ZM742.5,233.6H777.8V236.8H742.5ZM568.7,236.8H658.8V240H568.7ZM739.2,236.8H774.6V240H739.2ZM562.3,240H658.8V243.2H562.3ZM736,240H768.2V243.2H736ZM552.7,243.2H658.8V246.4H552.7ZM729.6,243.2H765V246.4H729.6ZM543,246.4H658.8V249.7H543ZM723.2,246.4H758.5V249.7H723.2ZM530.1,249.7H658.8V252.9H530.1ZM716.7,249.7H755.3V252.9H716.7ZM517.3,252.9H655.6V256.1H517.3ZM713.5,252.9H752.1V256.1H713.5ZM507.6,256.1H655.6V259.3H507.6ZM710.3,256.1H745.7V259.3H710.3ZM494.8,259.3H649.2V262.5H494.8ZM710.3,259.3H742.5V262.5H710.3ZM485.1,262.5H642.7V265.8H485.1ZM707.1,262.5H736V265.8H707.1ZM478.7,265.8H629.9V269H478.7ZM707.1,265.8H732.8V269H707.1ZM475.5,269H623.4V272.2H475.5ZM707.1,269H726.4V272.2H707.1ZM472.2,272.2H610.6V275.4H472.2ZM710.3,272.2H719.9V275.4H710.3ZM472.2,275.4H597.7V278.6H472.2ZM475.5,278.6H584.8V281.8H475.5ZM478.7,281.8H568.7V285.1H478.7ZM481.9,285.1H559.1V288.3H481.9ZM488.3,288.3H539.8V291.5H488.3ZM498,291.5H504.4V294.7H498Z" fill="#1ccdd8"/>
<path d="M790.7,188.5H793.9V191.7H790.7ZM623.4,191.7H629.9V195H623.4ZM787.5,191.7H793.9V195H787.5ZM620.2,195H633.1V198.2H620.2ZM784.3,195H793.9V198.2H784.3ZM617,198.2H636.3V201.4H617ZM781.1,198.2H793.9V201.4H781.1ZM613.8,201.4H636.3V204.6H613.8ZM781.1,201.4H793.9V204.6H781.1ZM613.8,204.6H639.5V207.8H613.8ZM777.8,204.6H790.7V207.8H777.8ZM610.6,207.8H639.5V211H610.6ZM777.8,207.8H790.7V211H777.8ZM607.4,211H642.7V214.3H607.4ZM774.6,211H787.5V214.3H774.6ZM607.4,214.3H646V217.5H607.4ZM771.4,214.3H787.5V217.5H771.4ZM604.1,217.5H649.2V220.7H604.1ZM768.2,217.5H784.3V220.7H768.2ZM600.9,220.7H649.2V223.9H600.9ZM765,220.7H784.3V223.9H765ZM597.7,223.9H652.4V227.1H597.7ZM761.8,223.9H781.1V227.1H761.8ZM594.5,227.1H652.4V230.4H594.5ZM755.3,227.1H777.8V230.4H755.3ZM591.3,230.4H652.4V233.6H591.3ZM752.1,230.4H774.6V233.6H752.1ZM588.1,233.6H652.4V236.8H588.1ZM748.9,233.6H771.4V236.8H748.9ZM581.6,236.8H652.4V240H581.6ZM745.7,236.8H765V240H745.7ZM575.2,240H652.4V243.2H575.2ZM739.2,240H761.8V243.2H739.2ZM572,243.2H652.4V246.4H572ZM736,243.2H758.5V246.4H736ZM565.5,246.4H649.2V249.7H565.5ZM729.6,246.4H752.1V249.7H729.6ZM555.9,249.7H646V252.9H555.9ZM723.2,249.7H748.9V252.9H723.2ZM546.2,252.9H642.7V256.1H546.2ZM719.9,252.9H745.7V256.1H719.9ZM533.4,256.1H636.3V259.3H533.4ZM716.7,256.1H739.2V259.3H716.7ZM520.5,259.3H626.7V262.5H520.5ZM713.5,259.3H736V262.5H713.5ZM507.6,262.5H620.2V265.8H507.6ZM713.5,262.5H729.6V265.8H713.5ZM494.8,265.8H610.6V269H494.8ZM710.3,265.8H723.2V269H710.3ZM488.3,269H597.7V272.2H488.3ZM488.3,272.2H584.8V275.4H488.3ZM485.1,275.4H568.7V278.6H485.1ZM488.3,278.6H555.9V281.8H488.3ZM488.3,281.8H539.8V285.1H488.3ZM494.8,285.1H510.8V288.3H494.8Z" fill="#1bd0d5"/>
<path d="M623.4,204.6H626.7V207.8H623.4ZM623.4,207.8H629.9V211H623.4ZM620.2,211H633.1V214.3H620.2ZM617,214.3H633.1V217.5H617ZM613.8,217.5H636.3V220.7H613.8ZM610.6,220.7H639.5V223.9H610.6ZM610.6,223.9H639.5V227.1H610.6ZM607.4,227.1H642.7V230.4H607.4ZM604.1,230.4H642.7V233.6H604.1ZM600.9,233.6H642.7V236.8H600.9ZM594.5,236.8H642.7V240H594.5ZM591.3,240H639.5V243.2H591.3ZM588.1,243.2H639.5V246.4H588.1ZM581.6,246.4H633.1V249.7H581.6ZM578.4,249.7H629.9V252.9H578.4ZM575.2,252.9H623.4V256.1H575.2ZM568.7,256.1H617V259.3H568.7ZM565.5,259.3H610.6V262.5H565.5ZM552.7,262.5H559.1V265.8H552.7ZM565.5,262.5H594.5V265.8H565.5ZM546.2,265.8H559.1V269H546.2ZM546.2,269H555.9V272.2H546.2ZM517.3,272.2H530.1V275.4H517.3ZM520.5,275.4H526.9V278.6H520.5Z" fill="#1ad4d0"/>
</g>
<path d="M103.9,121.9 532.8,121.9 526.8,127.3 508.7,133.8 495.1,144.7 484.2,154 475.5,162.2 474.9,163 486.4,161.1 506.6,143.7 533.8,132.2 553.5,131.6 565,138.2 551.9,146.9 554.6,155.1 557.3,163.3 560.6,169.9 568.2,173.1 577.5,177 587.3,176.4 599.3,174.8 605.9,167.1 611.3,160.6 612.4,169.3 621.2,174.8 604.8,183.5 590.1,187.3 577,191.1 563.9,195.5 556.2,201 549.1,205.3 539.9,204.8 539.3,193.3 552.9,186.2 561.7,183.3 546.4,183 537.7,183.5 527.3,184.6 529.5,189 515.3,195 501.7,199.3 489.1,202.6 483.1,208.6 479.3,213.4 478.7,218.1 479.8,222.2 481.8,225.3 485.3,228 487.3,226.3 487.8,223.2 490.3,224.8 490.8,227.3 489,229.2 481,230.4 472.5,231 462,233 451,234.6 441.6,238.2 438,240.8 434.4,244.4 438.5,245.4 435.4,254.7 427.2,264 426.1,261.9 418.4,256.8 421,261.9 424.6,267.1 425.1,271.2 414.3,286.7 412.2,286.7 415.8,277.4 409.6,274.3 409.1,267.1 408.1,261.4 405.5,267.1 406.5,275.9 399.3,273.5 406.5,275.9 408.6,278.4 409.1,289.5 412.9,290.4 414.2,294.1 415,299.9 416.2,307.7 407.6,317.6 395.2,320.9 386.1,328.3 379.5,329.6 372.5,334.5 371.3,338.2 357.2,346.5 349,353.5 344,360.9 343.2,365 342,370 344.6,380 348.3,390.2 354.4,398.6 353.9,405.1 360.9,418.6 360.4,431.1 356.7,440 352,442.7 346,440.9 344.6,435.3 338.6,432 326,411.6 324,407 327.4,398.1 323.7,390.7 312.1,380 308,378 294,384 286,377 278,374.4 264,375.6 252,375 240,377 239,384 242,389 236,388 230,390.4 222,390.4 211,384 200,385 190,382 180,383.6 172,386 160,396 148,401 140,409 137,415 137,424 140,432 135,444 133,458 131,476 131,480 135,486 139,497 148,507 153,517 157,522 170,527 175,531.6 186,528 200,526 214,522.4 222,517 226,508 227,499 229,494 240,490.4 252,488.4 264,488.4 271,488 273.6,491 273,497 268,503 263,512 265,515 260,530 257,528 253,527 256,530 255,538 254,549 251,556 247,559 249.5,561.7 255.7,562.4 260.7,560.5 269.3,561.7 276.8,561.7 283.6,558.6 291.7,560.5 296.6,559.3 304,561.1 311.5,565.4 320.2,571 320.8,572.6 319,580 316,592 316,604 313,614 312,623 316,630 322,638 328,642 332.4,645.9 333,649.6 338.6,649.4 342.3,652.1 348.5,651.5 354.7,647.8 360.9,645.9 366.5,641.6 373.9,642.4 375.1,643.7 380.7,644.1 386.9,646.5 394.3,652.7 401.8,654 411.1,645.9 416.7,644.1 419.1,628.6 426.6,622.4 434.6,621.8 435.9,619.7 445.5,620.9 460.5,612 467.3,605.9 472,606.6 474.8,609.3 472,615.5 465.2,617.5 468.6,624.3 468.6,630.5 463.2,638.7 468,648.2 473.4,647.5 476.2,638.7 472,634.6 472,624.3 487.7,619.6 486.4,612 490.5,608.6 494.6,617.5 503.4,617.5 512.3,625 513,629.1 524.6,629.1 538.2,627.7 545,633.2 554.6,635.2 562.8,631.2 562.8,627.7 576.4,627.5 594.2,627 583.2,631.2 587.3,637.3 596.9,638 607.8,644.8 609.8,654.3 616.7,654.3 630,662 638,671 638,677 643,677 655,688 670,691 671,688.4 682,687.4 696,691 710,695 718,701 724,707 726,711.6 731,712 735,722 740,740 747,742 748,752 738,762 741,766 765,768 765,781 775,772.5 797,779 812,784 818,792 816,800 831,796 852,801 858,802 875.7,802.1 895,812.6 910.3,827 917,829.9 344,829.9 343,826 347,817 358,808 364,799 362,794 356,800 348,794 350,788 349,778 354,777 360,762 360,755 375,748 374,745 377,744 379,740 379,736 381,732 386.9,730 398.1,715.9 393.1,712.8 395.6,705.4 392.5,693.6 395.6,689.9 393.7,679.3 388.8,673.2 383.8,668.2 381.3,660.8 384.4,658.3 381.3,657.7 378.2,653.3 372,649.9 366.5,650.9 362.8,656.4 355.9,658.9 354.7,661.4 360.9,668.2 355.9,671.9 349.7,672.5 347.3,667 341.7,666.3 338.6,660.8 331.2,658.3 323.7,660.8 320,657.7 315,655 315,651 310,646 300,639 297,636 295.6,642 292,639 287,634 285,625 288,623 280,616 270,606 263,600 266,598 262,594 260,595.6 252,596 244,594 236,591 226,587 216,585 209,582 200,575 189,565 182,560 172,557 164,557.6 156,561 148,564 130,558 115,551 103.9,549ZM1262,387.5 1256.2,391.7 1250,394.8 1239.7,403 1228.3,405 1222,409.2 1216,418.5 1211.8,423.7 1204.6,426.8 1200.5,435 1199.4,442.2 1196.3,449.5 1190,452.6 1184,459.8 1179.8,468 1179.8,473.2 1175.7,479.4 1171.6,483.1 1170.5,493.8 1176.7,499 1180.9,506.2 1179.8,514.5 1181.9,528.9 1181.8,539.3 1179.9,545.8 1177.1,550.4 1178.1,557.9 1174.4,566.2 1169.7,572.7 1163.2,575.5 1167.9,579.2 1172.5,585.7 1175.3,591.3 1173.4,596.9 1174.4,603.4 1176.2,609 1179.9,612.7 1183.6,617.3 1189.2,618.2 1195.7,622.9 1199.4,625.7 1202.2,633.1 1205,636.8 1210.6,639.6 1216.1,645.2 1219.9,650.8 1221.7,660 1225.4,666.5 1231,672.1 1236.6,675.8 1243.1,678.2 1251.4,686 1262,692.5ZM645,121.9 637,133 628,140 634,143 626,149 628,153 646,153.6 666,153 679,156 670,161 677,162 688,153 693,151 694,155 693,162 698,165 708,165 713,154 708,139 699,141 703,132 689,127.6 683,131 672,126 677,121.9ZM561.7,163.9 565.5,160 568.2,161.7 571,166 579.1,168.2 593.3,167.7 588.4,172 584.6,173.7 579.1,174.2 572.6,171.5 566,168.8ZM560.6,124 568.2,123.5 579.1,125.6 590.1,128.9 595.5,131.6 594.4,134.4 587.9,134.4 574.8,130.6 565,126.2ZM441,241.3 452,240.4 465.5,238.3 462,236.6 454,236.2 443.5,238.8ZM297,483.6 303,479 306,475 318,469.6 333,466.6 353,468 364,472 371,477 383,475.6 394,484 406,492 418,494 417.6,497.6 427,498.4 436,504 435,507 428,508.6 418,509.6 404,508.6 390,510 397,503 394,499.4 384,498 380,493 378,487 370,487.4 360,484.4 354,481 338,479 333,476.6 338,474 325,475 316,480 310,480.6 309,483.6 303,485ZM382,530 385,527 394,526.4 404,529 410,533 410.4,535.6 403,536 397,538 389,535ZM446,512 448,508.6 467,510 478,508.6 490,511.6 492,516 499,517 499,521 506,521 512,526 507,531.6 500,528 488,531 482,532 480,528 475,531 471,539 468,536 467.6,533 461,530 444,531 439,533.6 432,529 433,525 446,526.4 455,527 459,525 454,519 452,514ZM524.6,527 536,526 544,527.6 547,530.6 543,534.6 525,535ZM373.6,420 382,419 389,419.6 390,417.6 400,423 398,433 395,431 396,423.6 389,421.6 388,424 375,426ZM384,441 388,440.6 393,452 393,460 389.6,460.6 386,453 381,449ZM597,626.5 604,624.8 607,626 606.4,635.2 593,636 597,631Z" fill="#e5e5e5" fill-rule="nonzero"/>
<path d="M395.2,204H408V206.9H395.2ZM395.2,206.9H398.2V210.3H395.2ZM546.1,150H548.9V153H546.1ZM559.3,175H561.9V177.8H559.3ZM552.1,178H556.2V181.3H552.1ZM562.2,182.4H572V184.8H562.2ZM562.2,191.1H568.2V194.4H562.2ZM601,175.3H607V177.6H601ZM601,177.6H604.8V181.9H601ZM501.7,195H515.8V197.4H501.7ZM516.9,191.1H521.3V193.5H516.9Z" fill="#4294ff" shape-rendering="crispEdges"/>
<path d="M166,122 166,130M140,136 141,146 144,154 145.6,164 148,172 147,177 144.4,179 149,182 149,205M104.4,174.4 147.6,174.4M104.4,211.6 124,212 130,215 138,213.6 146.4,216.4M149,205 147,216.4 153,226 158,242 160,245M147.6,205.4 216,205.4M239.4,147.6 232,156.4 227,166 254,173.4 260,177 262,183 265,185 269,181 280,183 274,190 270,202 270,217.4 268.6,227.6M232,156.4 224,156.4 204,164.4 203,173 195.6,177.6 197,182 196,189 208,195 215.6,200 216.6,205.4 218,212 224,217.4 230,224 228,229.6 219,233.6 220,237.6 216,241 213.4,245 213.4,251 218,257 226,264.6 230.4,266 228,273 238,282 240,288 243,289M224,218 270,218M159,243 210,243 213.4,245M104.4,250.4 164,250.4M160,245 164,250 169,254 167,257 172.4,262 173,288 174,295 175.6,312M104.4,289.2 172.6,289.2M173.6,295.6 231,295.6 232,298 228,301.6 235,301.6M264,227.6 264,262 262,272 258,278M264,227.6 299,227.6 318,227.6 321,225M299,227.6 299,265M243,289 252,288 253,284 257,282.6 258,278 265,277 270,278.6 278,275 283,276 291,267.6 299,265.4 302,262.4 310,267 322,267.6 327,271 332,267 337,264 338,261 348,256 352.4,248 353,243 354.4,254M327,271 330,278 337,285 343,286 348,284 357,282 362,274 367,268 378,264 382,258 388,261 393,259 396.2,263 399.8,265M337,285 332,284 320,292 313,294M243,289 243,294 257,295 258,293 313,294 339,294.4 393,295 413.2,295M243,294 238,295 236,301.6 231,312M354.4,221 354.4,254 415.3,253.9 418.9,252.6M364.4,217 364.4,225 421,224.8 424.6,227.9 425.1,230.4 439.5,237.7M367.6,254 367.6,260 380,255 386,258 390,261M367.4,122 367.4,155 370.4,162 377.4,169 393,172 396,173 403,177 412,180 422,178 432,178 433,183M503,157.6 505,155 510,154 511,149 520,147.6 531,148M428.2,233 423.5,239.2 423,242.3 428.7,248 425.1,250.6 422,251M415.6,253.9 415.8,270.7 424.6,270.7M415.8,277.4 422,275.9M446,186 447,194 446,204 447.3,206.2 447.3,215.5 444.7,223.7 443.7,237.2M470,186 468,192 461,200 459.1,206.2 457.1,215M476,183 477,197 477.7,207.2 480.8,211.4M447.3,215.5 472.6,215.8 479.3,212.9M444.7,224.5 454,224.8 466.4,224.6 472,224.6 473.6,228.4M466.6,224.6 466.6,233M104.4,321 112,322 115,325 124,326 131,329 141,331 152,330 165,328.6 174,332 180,334M174,300 175,310 175,332M180,334 180.4,341 217,341M180.4,341 180.4,353 184,359 187,366 185,372 184,382M238,300 233,306 230,314 224,321 219,327 216.6,333 218,341 220,348 215,356 211,366 234,366.4 237,372 237,377M230,315 318,315 330,312.2 347.3,313.1 350.6,316.8 365.5,317.4 379.5,328.7M305,315 307,310 318,306 326,302 334.1,299.9 338.3,297.4 339.1,294.5M257,315 253,340 251.4,356 252.6,374.4M288.6,315.6 294,340 297,349 295,358 296,366.4 298,370M264.4,374 265,370 263,366.4 296,366.4M298,370 332,372 333,375 335,369 342,370M318,318 326,326 330,329.6 335,333.7 341.6,340.3 343.2,344.4 346.5,350.2 348.6,353.1M563.3,175.3 566,173.7M797,780 795,790 790,800 784,814 776,824 769,829M852,802 848,808 842,810 837,820 838,829M859,802.6 857,810 861,820 860,829M575.2,736.3 583.1,739.6 584.2,746.4 587,755.4 585.3,763.2 588.1,771.1 585.9,775.1 593.8,782.9 597.1,784.1 598.8,774.5 603.3,771.3 607.3,773.4 609.5,776.7 614,774.5 613.4,770 617.4,762.5 632,762.1M632,748.6 632.6,762.1 633.1,770 637.6,777.9 645.5,783.5 653.4,787.4 660.7,793 664.6,794.2 665.2,795.9 649.5,829M686,734 686,742.4 691.1,743.6 702.9,749.2 706.8,756.5 709.1,765.5 714.7,774.5 717,779.6 722,780.1" fill="none" stroke="#6a6a6a" stroke-width="1.65" stroke-linejoin="round"/>
<path d="M103.9,135 166,135 166,130.4 170.4,130.4 172,136 176,138.6 188,140 200,142.4 211,145.6 221,144 230,145.6 239.4,147.6 253,143.6 276,153 297,161 300,165.6 304,167 307,166.6 310,171 315,172.4 315.6,175.6 328,181.6 331,193 333.4,204.4 330,213 321,223.4 321,226 325,228.6 329,229 343,222.4 355,220 373,214.6 375,211 371.6,206 377,204 402.4,204 410,197 427,186 470,186 471,183 480.9,180.8 486.4,172.6 489.6,165 499.5,154.6 503.8,158.4 512,155.7 518,160 518,177.5 527.3,184.6M103.9,406 110,411 115,425 126,430 137,433 140,432M204,576 203,569 209,559 227,558.4 226,554 220,549 214,543.6 219,543 220,536 243,536M243,534 242.6,561 248,561M243,534 248,533 253,527M254,563 243,572 241,579 237,581 231,587M241,579 248,585 253,587 259,586 261,589 260,595M266.3,596.4 269.3,597.6 273.7,594 274.3,589.6 280.5,588.4 283,585.3 286.7,586.5 294.1,579 298.5,574.7 304,577.2 310.2,574.7 320.2,571.6M288,622 298,624 303,623 311,627 313,623M328,642.2 323.1,643.4 323.7,649.6 325.6,650.9 323.7,657.7 323.4,660.5M394,653.6 396,662 394,666 389,667 388,670M468,511 467,520 465,526 467.6,533M472,615.5 464.6,616.8 460.5,622.3 453.6,628.4 450.2,637.3 446.8,647.5 453,648.9 455,654.3 458.4,659.1 459.1,664.6 457.7,669.4 463.9,674.8 480.9,673.9 489,676 498,686 510,685 520,685 524,687 519,698 518,708 520,715 524,721 518,729 524,736 528,745 529,750M529,750 527,750 521,739 518,743 492,743.6 492,752 500,752.4 500,756.4 489,758 489,766 495,773 497,780 491,820M529,750 537,756 546,755 549,751 563,746 566,740 575,737 574,734.4 563,732.4 561,716 556,712.4 578,716.4 582,713.6 596,709.6 607,705 609,698M620,657 611.2,665.3 609.8,669.4 614.6,674.1 604,679 603,686 600,689 609,698 617,698 619,705 624,715 620,720 619,730 624,742 632,749 637,749 648,744 653,740.6 662,740.6 670,741.6M655,688 653,700 645,704 643.6,713 649,722 653,723 656,731 662,740.6M670,741.6 669,733.6 675,733 681,732.4 686,734 689,735.6M696,691.6 690,702 690,710 695,719 692,730 689,735.6M689,735.6 696,738 699,735.6 703,739 709,738 712,735 718,723 726,711.6M375,748 390,755 394,760 406,761 409,759.6 422,766M422,766 423,775 418,785 404,799 389,804 381,815 378,823 371,828 366,822 356,820 355,815 359,814 358,808M422,766 430,771 438,780 444,782 450,794 460,796 467,793 471,795 479,794 489,799.6 480,813 491,820M491,820 479,820 468,824 458,829.9M1171.6,489.7 1200.5,489.7 1224.2,490.7 1221.1,472.2 1224.2,466 1237.2,464.5 1236.6,431.9 1262,431.9M1171.6,490.5 1200.5,490.5M1200.5,489.7 1202.5,484.5 1207.7,477.3 1210.8,460.8 1229.4,447.4 1234.5,430.9 1238.6,429.9 1243.8,419.5 1255.1,417.9 1262,419.5M1178.1,557.9 1182.7,553.8 1189.2,554.5 1195.7,551.9 1203.1,552.3 1209.6,556 1216.1,558.8 1221.7,564.4 1227.3,569.9 1233.8,576.4M1233.8,576.4 1237.5,574.6 1240.3,568.1 1244,567.2 1252.4,569.9 1262,568.1M1233.8,576.4 1234.7,583.9 1237.5,593.2 1242.1,596.9 1242.1,605.2 1243.1,609.5 1249.6,608 1254.2,611.4 1262,612.3M1175.3,590.4 1190.1,589.4 1193.9,586.7 1197.6,587.2 1203.1,589.8 1209.6,588 1212.1,590.9 1206.9,594.1 1201.3,594.1 1195.7,591.7 1190.1,594.1 1184.6,596 1174.4,596M1176.2,605.2 1184.6,603.9 1190.1,602.8 1214.3,603.4 1220.8,603.4 1229.1,606.2 1233.8,604.9 1242.1,605.2M1214.3,603.4 1213.4,611.7 1211.5,614.5 1205,616.4 1200.4,617.3 1195.7,622.9M1219.9,650.8 1226.4,645.2 1229.1,639.6 1236.6,635.9 1247.7,636.3 1253.3,645.2 1256.1,658.2 1262,656.7M1256.1,658.2 1247.7,668.4 1245.9,674 1243.1,678.2" fill="none" stroke="#000" stroke-width="1.7" stroke-linejoin="round" stroke-linecap="round"/>
<path d="M532.8,121.9 526.8,127.3 508.7,133.8 495.1,144.7 484.2,154 475.5,162.2 474.9,163 486.4,161.1 506.6,143.7 533.8,132.2 553.5,131.6 565,138.2 551.9,146.9 554.6,155.1 557.3,163.3 560.6,169.9 568.2,173.1 577.5,177 587.3,176.4 599.3,174.8 605.9,167.1 611.3,160.6 612.4,169.3 621.2,174.8 604.8,183.5 590.1,187.3 577,191.1 563.9,195.5 556.2,201 549.1,205.3 539.9,204.8 539.3,193.3 552.9,186.2 561.7,183.3 546.4,183 537.7,183.5 527.3,184.6 529.5,189 515.3,195 501.7,199.3 489.1,202.6 483.1,208.6 479.3,213.4 478.7,218.1 479.8,222.2 481.8,225.3 485.3,228 487.3,226.3 487.8,223.2 490.3,224.8 490.8,227.3 489,229.2 481,230.4 472.5,231 462,233 451,234.6 441.6,238.2 438,240.8 434.4,244.4 438.5,245.4 435.4,254.7 427.2,264 426.1,261.9 418.4,256.8 421,261.9 424.6,267.1 425.1,271.2 414.3,286.7 412.2,286.7 415.8,277.4 409.6,274.3 409.1,267.1 408.1,261.4 405.5,267.1 406.5,275.9 399.3,273.5 406.5,275.9 408.6,278.4 409.1,289.5 412.9,290.4 414.2,294.1 415,299.9 416.2,307.7 407.6,317.6 395.2,320.9 386.1,328.3 379.5,329.6 372.5,334.5 371.3,338.2 357.2,346.5 349,353.5 344,360.9 343.2,365 342,370 344.6,380 348.3,390.2 354.4,398.6 353.9,405.1 360.9,418.6 360.4,431.1 356.7,440 352,442.7 346,440.9 344.6,435.3 338.6,432 326,411.6 324,407 327.4,398.1 323.7,390.7 312.1,380 308,378 294,384 286,377 278,374.4 264,375.6 252,375 240,377 239,384 242,389 236,388 230,390.4 222,390.4 211,384 200,385 190,382 180,383.6 172,386 160,396 148,401 140,409 137,415 137,424 140,432 135,444 133,458 131,476 131,480 135,486 139,497 148,507 153,517 157,522 170,527 175,531.6 186,528 200,526 214,522.4 222,517 226,508 227,499 229,494 240,490.4 252,488.4 264,488.4 271,488 273.6,491 273,497 268,503 263,512 265,515 260,530 257,528 253,527 256,530 255,538 254,549 251,556 247,559 249.5,561.7 255.7,562.4 260.7,560.5 269.3,561.7 276.8,561.7 283.6,558.6 291.7,560.5 296.6,559.3 304,561.1 311.5,565.4 320.2,571 320.8,572.6 319,580 316,592 316,604 313,614 312,623 316,630 322,638 328,642 332.4,645.9 333,649.6 338.6,649.4 342.3,652.1 348.5,651.5 354.7,647.8 360.9,645.9 366.5,641.6 373.9,642.4 375.1,643.7 380.7,644.1 386.9,646.5 394.3,652.7 401.8,654 411.1,645.9 416.7,644.1 419.1,628.6 426.6,622.4 434.6,621.8 435.9,619.7 445.5,620.9 460.5,612 467.3,605.9 472,606.6 474.8,609.3 472,615.5 465.2,617.5 468.6,624.3 468.6,630.5 463.2,638.7 468,648.2 473.4,647.5 476.2,638.7 472,634.6 472,624.3 487.7,619.6 486.4,612 490.5,608.6 494.6,617.5 503.4,617.5 512.3,625 513,629.1 524.6,629.1 538.2,627.7 545,633.2 554.6,635.2 562.8,631.2 562.8,627.7 576.4,627.5 594.2,627 583.2,631.2 587.3,637.3 596.9,638 607.8,644.8 609.8,654.3 616.7,654.3 630,662 638,671 638,677 643,677 655,688 670,691 671,688.4 682,687.4 696,691 710,695 718,701 724,707 726,711.6 731,712 735,722 740,740 747,742 748,752 738,762 741,766 765,768 765,781 775,772.5 797,779 812,784 818,792 816,800 831,796 852,801 858,802 875.7,802.1 895,812.6 910.3,827 917,829.9M344,829.9 343,826 347,817 358,808 364,799 362,794 356,800 348,794 350,788 349,778 354,777 360,762 360,755 375,748 374,745 377,744 379,740 379,736 381,732 386.9,730 398.1,715.9 393.1,712.8 395.6,705.4 392.5,693.6 395.6,689.9 393.7,679.3 388.8,673.2 383.8,668.2 381.3,660.8 384.4,658.3 381.3,657.7 378.2,653.3 372,649.9 366.5,650.9 362.8,656.4 355.9,658.9 354.7,661.4 360.9,668.2 355.9,671.9 349.7,672.5 347.3,667 341.7,666.3 338.6,660.8 331.2,658.3 323.7,660.8 320,657.7 315,655 315,651 310,646 300,639 297,636 295.6,642 292,639 287,634 285,625 288,623 280,616 270,606 263,600 266,598 262,594 260,595.6 252,596 244,594 236,591 226,587 216,585 209,582 200,575 189,565 182,560 172,557 164,557.6 156,561 148,564 130,558 115,551 103.9,549M1262,387.5 1256.2,391.7 1250,394.8 1239.7,403 1228.3,405 1222,409.2 1216,418.5 1211.8,423.7 1204.6,426.8 1200.5,435 1199.4,442.2 1196.3,449.5 1190,452.6 1184,459.8 1179.8,468 1179.8,473.2 1175.7,479.4 1171.6,483.1 1170.5,493.8 1176.7,499 1180.9,506.2 1179.8,514.5 1181.9,528.9 1181.8,539.3 1179.9,545.8 1177.1,550.4 1178.1,557.9 1174.4,566.2 1169.7,572.7 1163.2,575.5 1167.9,579.2 1172.5,585.7 1175.3,591.3 1173.4,596.9 1174.4,603.4 1176.2,609 1179.9,612.7 1183.6,617.3 1189.2,618.2 1195.7,622.9 1199.4,625.7 1202.2,633.1 1205,636.8 1210.6,639.6 1216.1,645.2 1219.9,650.8 1221.7,660 1225.4,666.5 1231,672.1 1236.6,675.8 1243.1,678.2 1251.4,686 1262,692.5M645,121.9 637,133 628,140 634,143 626,149 628,153 646,153.6 666,153 679,156 670,161 677,162 688,153 693,151 694,155 693,162 698,165 708,165 713,154 708,139 699,141 703,132 689,127.6 683,131 672,126 677,121.9M561.7,163.9 565.5,160 568.2,161.7 571,166 579.1,168.2 593.3,167.7 588.4,172 584.6,173.7 579.1,174.2 572.6,171.5 566,168.8ZM560.6,124 568.2,123.5 579.1,125.6 590.1,128.9 595.5,131.6 594.4,134.4 587.9,134.4 574.8,130.6 565,126.2ZM441,241.3 452,240.4 465.5,238.3 462,236.6 454,236.2 443.5,238.8ZM297,483.6 303,479 306,475 318,469.6 333,466.6 353,468 364,472 371,477 383,475.6 394,484 406,492 418,494 417.6,497.6 427,498.4 436,504 435,507 428,508.6 418,509.6 404,508.6 390,510 397,503 394,499.4 384,498 380,493 378,487 370,487.4 360,484.4 354,481 338,479 333,476.6 338,474 325,475 316,480 310,480.6 309,483.6 303,485ZM382,530 385,527 394,526.4 404,529 410,533 410.4,535.6 403,536 397,538 389,535ZM446,512 448,508.6 467,510 478,508.6 490,511.6 492,516 499,517 499,521 506,521 512,526 507,531.6 500,528 488,531 482,532 480,528 475,531 471,539 468,536 467.6,533 461,530 444,531 439,533.6 432,529 433,525 446,526.4 455,527 459,525 454,519 452,514ZM524.6,527 536,526 544,527.6 547,530.6 543,534.6 525,535ZM373.6,420 382,419 389,419.6 390,417.6 400,423 398,433 395,431 396,423.6 389,421.6 388,424 375,426ZM384,441 388,440.6 393,452 393,460 389.6,460.6 386,453 381,449ZM597,626.5 604,624.8 607,626 606.4,635.2 593,636 597,631ZM658.5,121.9 660.3,125.5 665.6,121.9" fill="none" stroke="#000" stroke-width="2.85" stroke-linejoin="round" stroke-linecap="round"/>
<path d="M361,121.9V829.9M618,121.9V829.9M876,121.9V829.9M1133,121.9V829.9" fill="none" stroke="#808080" stroke-opacity="0.55" stroke-width="2" stroke-dasharray="1.6675,2.7513" stroke-dashoffset="0.57"/>
<path d="M103.9,251H1262M103.9,380H1262M103.9,508H1262M103.9,637H1262M103.9,765H1262" fill="none" stroke="#808080" stroke-opacity="0.55" stroke-width="2" stroke-dasharray="1.6675,2.7513" stroke-dashoffset="0.43"/>
</g>
<rect x="103.9" y="121.9" width="1158.1" height="708" fill="none" stroke="#000" stroke-width="2"/>
<g opacity="0.999">
<circle cx="732.5" cy="896.6" r="4.75" fill="#333"/>
<text x="326.4" y="99.5" font-size="35.6" textLength="104" lengthAdjust="spacingAndGlyphs" fill="#000" stroke="#000" stroke-width="0.3">Graph</text>
<text x="428.5" y="99.5" font-size="35.6" textLength="74" lengthAdjust="spacingAndGlyphs" fill="#000" stroke="#000" stroke-width="0.3">Cast</text>
<text x="503.9" y="99.5" font-size="35.6" textLength="12" lengthAdjust="spacingAndGlyphs" fill="#000" stroke="#000" stroke-width="0.3">-</text>
<text x="516" y="99.5" font-size="35.6" textLength="66.2" lengthAdjust="spacingAndGlyphs" fill="#000" stroke="#000" stroke-width="0.3">GFS</text>
<text x="593.3" y="99.5" font-size="35.6" textLength="14.9" lengthAdjust="spacingAndGlyphs" fill="#000" stroke="#000" stroke-width="0.3">–</text>
<text x="619.4" y="99.5" font-size="35.6" textLength="65.5" lengthAdjust="spacingAndGlyphs" fill="#000" stroke="#000" stroke-width="0.3">Day</text>
<text x="697.6" y="99.5" font-size="35.6" textLength="19.2" lengthAdjust="spacingAndGlyphs" fill="#000" stroke="#000" stroke-width="0.3">3</text>
<text x="729.5" y="99.5" font-size="35.6" textLength="9.3" lengthAdjust="spacingAndGlyphs" fill="#000" stroke="#000" stroke-width="0.3">(</text>
<text x="742.4" y="99.5" font-size="35.6" textLength="40" lengthAdjust="spacingAndGlyphs" fill="#000" stroke="#000" stroke-width="0.3">10</text>
<text x="784.2" y="99.5" font-size="35.6" textLength="32.1" lengthAdjust="spacingAndGlyphs" fill="#000" stroke="#000" stroke-width="0.3">m</text>
<text x="828.2" y="99.5" font-size="35.6" textLength="82.5" lengthAdjust="spacingAndGlyphs" fill="#000" stroke="#000" stroke-width="0.3">Wind</text>
<text x="921.2" y="99.5" font-size="35.6" textLength="118.1" lengthAdjust="spacingAndGlyphs" fill="#000" stroke="#000" stroke-width="0.3">Speed)</text>
<text x="20.2" y="258.6" font-size="30.0" textLength="33.6" lengthAdjust="spacingAndGlyphs" fill="#000" stroke="#000" stroke-width="0.3">40</text>
<text x="55" y="258.6" font-size="30.0" textLength="12.9" lengthAdjust="spacingAndGlyphs" fill="#000" stroke="#000" stroke-width="0.3">°</text>
<text x="68.7" y="258.6" font-size="30.0" textLength="19.7" lengthAdjust="spacingAndGlyphs" fill="#000" stroke="#000" stroke-width="0.3">N</text>
<text x="20.8" y="387.6" font-size="30.0" textLength="33" lengthAdjust="spacingAndGlyphs" fill="#000" stroke="#000" stroke-width="0.3">30</text>
<text x="55" y="387.6" font-size="30.0" textLength="12.9" lengthAdjust="spacingAndGlyphs" fill="#000" stroke="#000" stroke-width="0.3">°</text>
<text x="68.7" y="387.6" font-size="30.0" textLength="19.7" lengthAdjust="spacingAndGlyphs" fill="#000" stroke="#000" stroke-width="0.3">N</text>
<text x="20.2" y="515.5" font-size="30.0" textLength="33.6" lengthAdjust="spacingAndGlyphs" fill="#000" stroke="#000" stroke-width="0.3">20</text>
<text x="55" y="515.5" font-size="30.0" textLength="12.9" lengthAdjust="spacingAndGlyphs" fill="#000" stroke="#000" stroke-width="0.3">°</text>
<text x="68.7" y="515.5" font-size="30.0" textLength="19.7" lengthAdjust="spacingAndGlyphs" fill="#000" stroke="#000" stroke-width="0.3">N</text>
<text x="20.5" y="644.5" font-size="30.0" textLength="33.3" lengthAdjust="spacingAndGlyphs" fill="#000" stroke="#000" stroke-width="0.3">10</text>
<text x="55" y="644.5" font-size="30.0" textLength="12.9" lengthAdjust="spacingAndGlyphs" fill="#000" stroke="#000" stroke-width="0.3">°</text>
<text x="68.7" y="644.5" font-size="30.0" textLength="19.7" lengthAdjust="spacingAndGlyphs" fill="#000" stroke="#000" stroke-width="0.3">N</text>
<text x="57.9" y="772.5" font-size="30.0" textLength="16.3" lengthAdjust="spacingAndGlyphs" fill="#000" stroke="#000" stroke-width="0.3">0</text>
<text x="75.8" y="772.5" font-size="30.0" textLength="12.9" lengthAdjust="spacingAndGlyphs" fill="#000" stroke="#000" stroke-width="0.3">°</text>
<text x="323.2" y="865.9" font-size="30.0" textLength="34.3" lengthAdjust="spacingAndGlyphs" fill="#000" stroke="#000" stroke-width="0.3">80</text>
<text x="358.5" y="865.9" font-size="30.0" textLength="12.7" lengthAdjust="spacingAndGlyphs" fill="#000" stroke="#000" stroke-width="0.3">°</text>
<text x="372.5" y="865.9" font-size="30.0" textLength="25.8" lengthAdjust="spacingAndGlyphs" fill="#000" stroke="#000" stroke-width="0.3">W</text>
<text x="580.3" y="865.9" font-size="30.0" textLength="34.6" lengthAdjust="spacingAndGlyphs" fill="#000" stroke="#000" stroke-width="0.3">60</text>
<text x="615.8" y="865.9" font-size="30.0" textLength="12.7" lengthAdjust="spacingAndGlyphs" fill="#000" stroke="#000" stroke-width="0.3">°</text>
<text x="629.9" y="865.9" font-size="30.0" textLength="25.8" lengthAdjust="spacingAndGlyphs" fill="#000" stroke="#000" stroke-width="0.3">W</text>
<text x="837.9" y="865.9" font-size="30.0" textLength="34.3" lengthAdjust="spacingAndGlyphs" fill="#000" stroke="#000" stroke-width="0.3">40</text>
<text x="873.1" y="865.9" font-size="30.0" textLength="12.7" lengthAdjust="spacingAndGlyphs" fill="#000" stroke="#000" stroke-width="0.3">°</text>
<text x="887.2" y="865.9" font-size="30.0" textLength="25.8" lengthAdjust="spacingAndGlyphs" fill="#000" stroke="#000" stroke-width="0.3">W</text>
<text x="1095.1" y="865.9" font-size="30.0" textLength="34.5" lengthAdjust="spacingAndGlyphs" fill="#000" stroke="#000" stroke-width="0.3">20</text>
<text x="1130.5" y="865.9" font-size="30.0" textLength="12.7" lengthAdjust="spacingAndGlyphs" fill="#000" stroke="#000" stroke-width="0.3">°</text>
<text x="1144.5" y="865.9" font-size="30.0" textLength="25.8" lengthAdjust="spacingAndGlyphs" fill="#000" stroke="#000" stroke-width="0.3">W</text>
<text x="347.2" y="904.6" font-size="25.0" textLength="60.9" lengthAdjust="spacingAndGlyphs" fill="#333" stroke="#333" stroke-width="0.3">Max:</text>
<text x="416.6" y="904.6" font-size="25.0" textLength="29.4" lengthAdjust="spacingAndGlyphs" fill="#333" stroke="#333" stroke-width="0.3">30</text>
<text x="455.4" y="904.6" font-size="25.0" textLength="23.7" lengthAdjust="spacingAndGlyphs" fill="#333" stroke="#333" stroke-width="0.3">kt</text>
<text x="487.7" y="904.6" font-size="25.0" textLength="25.8" lengthAdjust="spacingAndGlyphs" fill="#333" stroke="#333" stroke-width="0.3">@</text>
<text x="521.5" y="904.6" font-size="25.0" textLength="95.1" lengthAdjust="spacingAndGlyphs" fill="#333" stroke="#333" stroke-width="0.3">39.5°N,</text>
<text x="623.9" y="904.6" font-size="25.0" textLength="92" lengthAdjust="spacingAndGlyphs" fill="#333" stroke="#333" stroke-width="0.3">60.7°W</text>
<text x="748.4" y="904.6" font-size="25.0" textLength="59.4" lengthAdjust="spacingAndGlyphs" fill="#333" stroke="#333" stroke-width="0.3">Valid</text>
<text x="815.9" y="904.6" font-size="25.0" textLength="144.2" lengthAdjust="spacingAndGlyphs" fill="#333" stroke="#333" stroke-width="0.3">2025-11-18</text>
<text x="969.4" y="904.6" font-size="25.0" textLength="48.1" lengthAdjust="spacingAndGlyphs" fill="#333" stroke="#333" stroke-width="0.3">00Z</text>
<text x="1355.3" y="942.2" font-size="30.0" textLength="34.3" lengthAdjust="spacingAndGlyphs" fill="#000" stroke="#000" stroke-width="0.3">20</text>
<text x="1356.1" y="720.9" font-size="30.0" textLength="33.4" lengthAdjust="spacingAndGlyphs" fill="#000" stroke="#000" stroke-width="0.3">40</text>
<text x="1355.3" y="543.3" font-size="30.0" textLength="34.3" lengthAdjust="spacingAndGlyphs" fill="#000" stroke="#000" stroke-width="0.3">60</text>
<text x="1355.5" y="379.2" font-size="30.0" textLength="34" lengthAdjust="spacingAndGlyphs" fill="#000" stroke="#000" stroke-width="0.3">80</text>
<text x="1354.9" y="223.3" font-size="30.0" textLength="52.5" lengthAdjust="spacingAndGlyphs" fill="#000" stroke="#000" stroke-width="0.3">100</text>
<text x="1354.9" y="73.1" font-size="30.0" textLength="52.5" lengthAdjust="spacingAndGlyphs" fill="#000" stroke="#000" stroke-width="0.3">120</text>
<g transform="translate(1440,666.8) rotate(-90)">
<text x="-2.4" y="0" font-size="30.0" textLength="61" lengthAdjust="spacingAndGlyphs" fill="#000" stroke="#000" stroke-width="0.3">10m</text>
<text x="69.1" y="0" font-size="30.0" textLength="68.4" lengthAdjust="spacingAndGlyphs" fill="#000" stroke="#000" stroke-width="0.3">Wind</text>
<text x="147.3" y="0" font-size="30.0" textLength="85.9" lengthAdjust="spacingAndGlyphs" fill="#000" stroke="#000" stroke-width="0.3">Speed</text>
<text x="243" y="0" font-size="30.0" textLength="97.3" lengthAdjust="spacingAndGlyphs" fill="#000" stroke="#000" stroke-width="0.3">(knots)</text>
</g>
</g>
<rect x="1289.5" y="62.8" width="45.9" height="869.1" fill="url(#cb)"/>
<path d="M1289.5,63.3L1312.5,20.5L1335.4,63.3Z" fill="#7a0403"/>
<path d="M1289.5,931.9L1289.5,62.8L1312.5,20.5L1335.4,62.8L1335.4,931.9Z" fill="none" stroke="#000" stroke-width="2.2" stroke-linejoin="miter"/>
<path d="M1335.4,931.9H1344.9M1335.4,710.6H1344.9M1335.4,533H1344.9M1335.4,368.9H1344.9M1335.4,213H1344.9M1335.4,62.8H1344.9" stroke="#000" stroke-width="2.2" fill="none"/>
</svg></body></html>
